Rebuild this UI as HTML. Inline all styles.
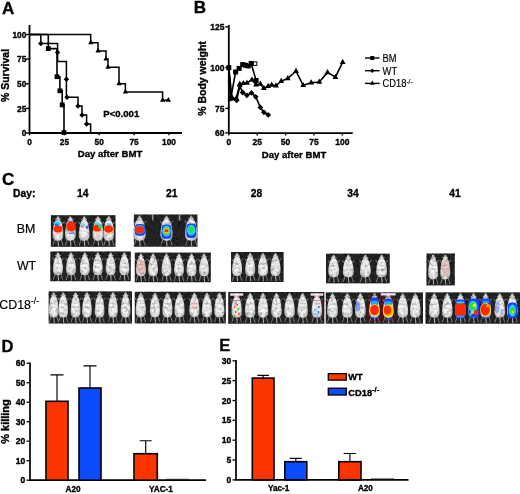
<!DOCTYPE html>
<html><head><meta charset="utf-8"><title>Figure</title>
<style>
html,body{margin:0;padding:0;background:#fff;}
body{width:520px;height:494px;overflow:hidden;font-family:"Liberation Sans",sans-serif;}
svg{display:block;}
text{font-family:"Liberation Sans",sans-serif;fill:#000;}
.r{stroke:#000;stroke-width:0.18px;}
.b{font-weight:bold;stroke:#000;stroke-width:0.35px;stroke-linejoin:round;}
</style></head><body>
<svg width="520" height="494" viewBox="0 0 520 494">
<defs>
<filter id="bl" x="0" y="0" width="520" height="494" filterUnits="userSpaceOnUse"><feGaussianBlur stdDeviation="0.38"/></filter>
<filter id="bm" x="0" y="200" width="520" height="140" filterUnits="userSpaceOnUse"><feGaussianBlur stdDeviation="0.6" result="b"/><feTurbulence type="fractalNoise" baseFrequency="0.32" numOctaves="2" seed="7" result="n"/><feColorMatrix in="n" type="matrix" values="0 0 0 0 0  0 0 0 0 0  0 0 0 0 0  1.4 0 0 0 -0.6" result="na"/><feComposite in="na" in2="b" operator="in" result="nb"/><feMerge><feMergeNode in="b"/><feMergeNode in="nb"/></feMerge></filter>
<filter id="br" x="0" y="200" width="520" height="140" filterUnits="userSpaceOnUse"><feGaussianBlur stdDeviation="0.35"/></filter>
<filter id="bc" x="0" y="200" width="520" height="140" filterUnits="userSpaceOnUse"><feGaussianBlur stdDeviation="0.65"/></filter>
<radialGradient id="mg" cx="50%" cy="55%" r="60%"><stop offset="0" stop-color="#fdfdfd"/><stop offset="0.55" stop-color="#f0f0f0"/><stop offset="1" stop-color="#a8a8a8"/></radialGradient>
</defs>
<rect width="520" height="494" fill="#fff"/>
<g filter="url(#bl)">

<g id="A">
<text x="2" y="14.4" class="b" font-size="17">A</text>
<path d="M29.5 25V133.0H182" stroke="#000" stroke-width="1.8" fill="none"/>
<path d="M26.0 133.0H29.5" stroke="#000" stroke-width="1.4"/>
<text x="26.3" y="136.1" class="b" font-size="8.3" text-anchor="end">0</text>
<path d="M26.0 108.4H29.5" stroke="#000" stroke-width="1.4"/>
<text x="26.3" y="111.5" class="b" font-size="8.3" text-anchor="end">25</text>
<path d="M26.0 83.8H29.5" stroke="#000" stroke-width="1.4"/>
<text x="26.3" y="86.8" class="b" font-size="8.3" text-anchor="end">50</text>
<path d="M26.0 59.1H29.5" stroke="#000" stroke-width="1.4"/>
<text x="26.3" y="62.2" class="b" font-size="8.3" text-anchor="end">75</text>
<path d="M26.0 34.5H29.5" stroke="#000" stroke-width="1.4"/>
<text x="26.3" y="37.6" class="b" font-size="8.3" text-anchor="end">100</text>
<path d="M29.5 133.0V135.3" stroke="#000" stroke-width="1.4"/>
<text x="29.5" y="144.8" class="b" font-size="8.3" text-anchor="middle">0</text>
<path d="M64.4 133.0V135.3" stroke="#000" stroke-width="1.4"/>
<text x="64.4" y="144.8" class="b" font-size="8.3" text-anchor="middle">25</text>
<path d="M99.2 133.0V135.3" stroke="#000" stroke-width="1.4"/>
<text x="99.2" y="144.8" class="b" font-size="8.3" text-anchor="middle">50</text>
<path d="M134.1 133.0V135.3" stroke="#000" stroke-width="1.4"/>
<text x="134.1" y="144.8" class="b" font-size="8.3" text-anchor="middle">75</text>
<path d="M169.0 133.0V135.3" stroke="#000" stroke-width="1.4"/>
<text x="169.0" y="144.8" class="b" font-size="8.3" text-anchor="middle">100</text>
<text x="110" y="157.2" class="b" font-size="9.6" text-anchor="middle">Day after BMT</text>
<text transform="translate(9.4 75.5) rotate(-90)" class="b" font-size="10.5" text-anchor="middle">% Survival</text>
<text x="121.3" y="117.4" class="b" font-size="9.6" text-anchor="middle">P&lt;0.001</text>
<path d="M29.5 34.5L90.7 34.5L90.7 42.7L98.0 42.7L98.0 50.9L106.0 50.9L106.0 59.1L108.0 59.1L108.0 67.3L119.0 67.3L119.0 83.8L125.4 83.8L125.4 92.0L162.6 92.0L162.6 100.2L169.0 100.2" stroke="#000" stroke-width="1.5" fill="none" stroke-linejoin="miter"/>
<path d="M90.7 39.5L93.3 44.2L88.1 44.2Z" fill="#000"/>
<path d="M98.0 47.7L100.6 52.4L95.4 52.4Z" fill="#000"/>
<path d="M106.0 55.9L108.6 60.6L103.4 60.6Z" fill="#000"/>
<path d="M108.0 64.1L110.6 68.8L105.4 68.8Z" fill="#000"/>
<path d="M119.0 80.6L121.6 85.2L116.4 85.2Z" fill="#000"/>
<path d="M125.4 88.8L128.0 93.4L122.8 93.4Z" fill="#000"/>
<path d="M162.6 97.0L165.2 101.7L160.0 101.7Z" fill="#000"/>
<path d="M168.4 97.0L171.0 101.7L165.8 101.7Z" fill="#000"/>
<path d="M29.5 34.5L40.8 34.5L40.8 43.5L57.6 43.5L57.6 61.4L66.4 61.4L66.4 97.2L78.0 97.2L78.0 106.1L82.0 106.1L82.0 115.1L86.6 115.1L86.6 124.0L90.6 124.0L90.6 133.0" stroke="#000" stroke-width="1.5" fill="none" stroke-linejoin="miter"/>
<path d="M40.8 40.8L43.5 43.5L40.8 46.2L38.1 43.5Z" fill="#000"/>
<path d="M57.6 49.7L60.3 52.4L57.6 55.1L54.9 52.4Z" fill="#000"/>
<path d="M66.4 76.6L69.1 79.3L66.4 82.0L63.7 79.3Z" fill="#000"/>
<path d="M67.0 94.5L69.7 97.2L67.0 99.9L64.3 97.2Z" fill="#000"/>
<path d="M78.0 103.4L80.7 106.1L78.0 108.8L75.3 106.1Z" fill="#000"/>
<path d="M82.0 112.4L84.7 115.1L82.0 117.8L79.3 115.1Z" fill="#000"/>
<path d="M86.6 121.3L89.3 124.0L86.6 126.7L83.9 124.0Z" fill="#000"/>
<path d="M29.5 34.5L48.3 34.5L48.3 48.6L57.0 48.6L57.0 76.7L59.9 76.7L59.9 90.8L62.2 90.8L62.2 104.9L64.0 104.9L64.0 133.0" stroke="#000" stroke-width="1.6" fill="none" stroke-linejoin="miter"/>
<rect x="45.9" y="46.2" width="4.8" height="4.8" fill="#000"/>
<rect x="54.6" y="74.3" width="4.8" height="4.8" fill="#000"/>
<rect x="57.5" y="88.4" width="4.8" height="4.8" fill="#000"/>
<rect x="59.8" y="102.5" width="4.8" height="4.8" fill="#000"/>
<rect x="61.6" y="130.1" width="4.8" height="4.8" fill="#000"/>
</g>
<g id="B">
<text x="193.7" y="12.7" class="b" font-size="17">B</text>
<path d="M228.8 25V133.2H352.7" stroke="#000" stroke-width="1.8" fill="none"/>
<path d="M225.3 132.9H228.8" stroke="#000" stroke-width="1.4"/>
<text x="224.4" y="136.0" class="b" font-size="8.5" text-anchor="end">60</text>
<path d="M225.3 108.4H228.8" stroke="#000" stroke-width="1.4"/>
<text x="224.4" y="111.5" class="b" font-size="8.5" text-anchor="end">75</text>
<path d="M225.3 67.6H228.8" stroke="#000" stroke-width="1.4"/>
<text x="224.4" y="70.7" class="b" font-size="8.5" text-anchor="end">100</text>
<path d="M225.3 26.8H228.8" stroke="#000" stroke-width="1.4"/>
<text x="224.4" y="29.9" class="b" font-size="8.5" text-anchor="end">125</text>
<path d="M228.8 133.2V135.5" stroke="#000" stroke-width="1.4"/>
<text x="228.8" y="144.79999999999998" class="b" font-size="8.5" text-anchor="middle">0</text>
<path d="M257.2 133.2V135.5" stroke="#000" stroke-width="1.4"/>
<text x="257.2" y="144.79999999999998" class="b" font-size="8.5" text-anchor="middle">25</text>
<path d="M285.6 133.2V135.5" stroke="#000" stroke-width="1.4"/>
<text x="285.6" y="144.79999999999998" class="b" font-size="8.5" text-anchor="middle">50</text>
<path d="M314.0 133.2V135.5" stroke="#000" stroke-width="1.4"/>
<text x="314.0" y="144.79999999999998" class="b" font-size="8.5" text-anchor="middle">75</text>
<path d="M342.4 133.2V135.5" stroke="#000" stroke-width="1.4"/>
<text x="342.4" y="144.79999999999998" class="b" font-size="8.5" text-anchor="middle">100</text>
<text x="294" y="157.8" class="b" font-size="9.6" text-anchor="middle">Day after BMT</text>
<text transform="translate(206.3 78.5) rotate(-90)" class="b" font-size="10.5" text-anchor="middle">% Body weight</text>
<path d="M228.8 67.7L230.8 98.2L235.6 72.0L239.1 68.4L242.7 64.6L245.5 65.3L248.3 65.9L251.2 63.5L256.1 80.5" stroke="#000" stroke-width="1.6" fill="none" stroke-linejoin="miter"/>
<path d="M228.8 67.7L232.0 98.2L236.3 98.2L239.8 84.0L243.4 83.3L247.0 82.9L251.9 79.8L256.1 84.7L260.4 84.0L263.9 88.3L268.2 86.1L271.7 84.9L276.0 85.7L281.2 81.2L287.8 78.4L296.0 71.2L303.2 85.3L311.2 82.7L319.3 82.0L327.5 72.4L335.4 77.2L342.7 62.2" stroke="#000" stroke-width="1.6" fill="none" stroke-linejoin="miter"/>
<path d="M228.8 67.7L230.6 98.6L236.7 100.3L239.8 86.1L242.7 92.5L246.9 95.3L251.5 92.9L255.7 96.8L260.4 107.4L263.9 112.3L268.2 114.9" stroke="#000" stroke-width="1.6" fill="none" stroke-linejoin="miter"/>
<rect x="226.3" y="65.2" width="5.0" height="5.0" fill="#000"/>
<rect x="228.3" y="95.7" width="5.0" height="5.0" fill="#000"/>
<rect x="233.1" y="69.5" width="5.0" height="5.0" fill="#000"/>
<rect x="236.6" y="65.9" width="5.0" height="5.0" fill="#000"/>
<rect x="240.2" y="62.1" width="5.0" height="5.0" fill="#000"/>
<rect x="243.0" y="62.8" width="5.0" height="5.0" fill="#000"/>
<rect x="245.8" y="63.4" width="5.0" height="5.0" fill="#000"/>
<rect x="248.7" y="61.0" width="5.0" height="5.0" fill="#000"/>
<rect x="253.6" y="78.0" width="5.0" height="5.0" fill="#000"/>
<rect x="253.3" y="61.9" width="3.5" height="3.5" fill="#fff" stroke="#000" stroke-width="1"/>
<path d="M232.0 94.8L234.9 100.0L229.1 100.0Z" fill="#000"/>
<path d="M236.3 94.8L239.2 100.0L233.4 100.0Z" fill="#000"/>
<path d="M239.8 80.6L242.7 85.8L236.9 85.8Z" fill="#000"/>
<path d="M243.4 79.9L246.3 85.1L240.5 85.1Z" fill="#000"/>
<path d="M247.0 79.5L249.9 84.7L244.1 84.7Z" fill="#000"/>
<path d="M251.9 76.4L254.8 81.6L249.0 81.6Z" fill="#000"/>
<path d="M256.1 81.3L259.0 86.5L253.2 86.5Z" fill="#000"/>
<path d="M260.4 80.6L263.3 85.8L257.5 85.8Z" fill="#000"/>
<path d="M263.9 84.9L266.8 90.1L261.0 90.1Z" fill="#000"/>
<path d="M268.2 82.7L271.1 87.9L265.3 87.9Z" fill="#000"/>
<path d="M271.7 81.5L274.6 86.7L268.8 86.7Z" fill="#000"/>
<path d="M276.0 82.3L278.9 87.5L273.1 87.5Z" fill="#000"/>
<path d="M281.2 77.8L284.1 83.0L278.3 83.0Z" fill="#000"/>
<path d="M287.8 75.0L290.7 80.2L284.9 80.2Z" fill="#000"/>
<path d="M296.0 67.8L298.9 73.0L293.1 73.0Z" fill="#000"/>
<path d="M303.2 81.9L306.1 87.1L300.3 87.1Z" fill="#000"/>
<path d="M311.2 79.3L314.1 84.5L308.3 84.5Z" fill="#000"/>
<path d="M319.3 78.6L322.2 83.8L316.4 83.8Z" fill="#000"/>
<path d="M327.5 69.0L330.4 74.2L324.6 74.2Z" fill="#000"/>
<path d="M335.4 73.8L338.3 79.0L332.5 79.0Z" fill="#000"/>
<path d="M342.7 58.8L345.6 64.0L339.8 64.0Z" fill="#000"/>
<path d="M230.6 95.7L233.5 98.6L230.6 101.5L227.7 98.6Z" fill="#000"/>
<path d="M236.7 97.4L239.6 100.3L236.7 103.2L233.8 100.3Z" fill="#000"/>
<path d="M239.8 83.2L242.7 86.1L239.8 89.0L236.9 86.1Z" fill="#000"/>
<path d="M242.7 89.6L245.6 92.5L242.7 95.4L239.8 92.5Z" fill="#000"/>
<path d="M246.9 92.4L249.8 95.3L246.9 98.2L244.0 95.3Z" fill="#000"/>
<path d="M251.5 90.0L254.4 92.9L251.5 95.8L248.6 92.9Z" fill="#000"/>
<path d="M255.7 93.9L258.6 96.8L255.7 99.7L252.8 96.8Z" fill="#000"/>
<path d="M260.4 104.5L263.3 107.4L260.4 110.3L257.5 107.4Z" fill="#000"/>
<path d="M263.9 109.4L266.8 112.3L263.9 115.2L261.0 112.3Z" fill="#000"/>
<path d="M268.2 112.0L271.1 114.9L268.2 117.8L265.3 114.9Z" fill="#000"/>
<path d="M365 58H379.6" stroke="#000" stroke-width="1.4"/>
<rect x="370.3" y="56.0" width="4.0" height="4.0" fill="#000"/>
<text transform="translate(382.6 61.8) scale(0.88 1)" font-size="10.6" class="r">BM</text>
<path d="M365 70.7H379.6" stroke="#000" stroke-width="1.4"/>
<path d="M372.3 68.5L374.5 70.7L372.3 72.9L370.1 70.7Z" fill="#000"/>
<text transform="translate(382.6 74.5) scale(0.88 1)" font-size="10.6" class="r">WT</text>
<path d="M365 83.4H379.6" stroke="#000" stroke-width="1.4"/>
<path d="M372.3 80.6L374.6 84.7L370.0 84.7Z" fill="#000"/>
<text transform="translate(382.6 87.2) scale(0.88 1)" font-size="10.6" class="r">CD18<tspan font-size="7.4" dy="-3.6">-/-</tspan></text>
</g>
<g id="C">
<text x="2.1" y="184.7" class="b" font-size="17">C</text>
<text x="13.1" y="196.5" class="b" font-size="10.3">Day:</text>
<text x="82.8" y="196.5" class="b" font-size="10.3" text-anchor="middle">14</text>
<text x="171.8" y="196.5" class="b" font-size="10.3" text-anchor="middle">21</text>
<text x="256.5" y="196.5" class="b" font-size="10.3" text-anchor="middle">28</text>
<text x="353" y="196.5" class="b" font-size="10.3" text-anchor="middle">34</text>
<text x="455" y="196.5" class="b" font-size="10.3" text-anchor="middle">41</text>
<text x="16.8" y="233.3" font-size="12.4" class="r">BM</text>
<text x="16.9" y="270" font-size="12.4" class="r">WT</text>
<text x="-0.7" y="308.6" font-size="12.4" class="r">CD18<tspan font-size="8.5" dy="-4.4">-/-</tspan></text>
<g filter="url(#bm)">
<rect x="50.9" y="215.2" width="64.6" height="31.6" fill="#262626"/><path d="M54.9 239.5L53.1 245.2M61.1 239.5L62.9 245.2M53.8 224.2l-1.5 -2.2M62.2 224.2l1.5 -2.2" stroke="#9a9a9a" stroke-width="0.8" fill="none" stroke-linecap="round"/><path d="M58.0 240.0L58.5 245.8" stroke="#c8c8c8" stroke-width="0.9" fill="none" stroke-linecap="round"/><path d="M58.0 215.9C59.2 216.5 59.8 218.5 60.0 220.4C61.2 221.4 61.7 222.4 61.9 224.0C62.8 227.1 63.8 233.0 63.2 237.0C62.6 239.8 60.4 240.8 58.0 240.8C55.6 240.8 53.4 239.8 52.8 237.2C52.2 233.0 53.2 227.1 54.1 224.0C54.3 222.4 54.8 221.4 56.0 220.4C56.2 218.5 56.8 216.5 58.0 215.9Z" fill="url(#mg)"/><circle cx="55.9" cy="219.4" r="0.8" fill="#b0b0b0"/><circle cx="60.1" cy="219.4" r="0.8" fill="#b0b0b0"/><path d="M54.9 226.6q3.1 1.8 6.2 0M55.1 231.6q2.9 -1.6 5.7 0.4M58.0 224.0v3" stroke="#b4b4b4" stroke-width="0.8" fill="none" opacity="0.7"/><path d="M67.3 239.5L65.5 245.2M73.5 239.5L75.3 245.2M66.2 224.2l-1.5 -2.2M74.6 224.2l1.5 -2.2" stroke="#9a9a9a" stroke-width="0.8" fill="none" stroke-linecap="round"/><path d="M70.4 240.0L70.9 245.8" stroke="#c8c8c8" stroke-width="0.9" fill="none" stroke-linecap="round"/><path d="M70.4 215.9C71.6 216.5 72.2 218.5 72.4 220.4C73.6 221.4 74.1 222.4 74.3 224.0C75.2 227.1 76.2 233.0 75.6 237.0C75.0 239.8 72.8 240.8 70.4 240.8C68.0 240.8 65.8 239.8 65.2 237.2C64.6 233.0 65.6 227.1 66.5 224.0C66.7 222.4 67.2 221.4 68.4 220.4C68.6 218.5 69.2 216.5 70.4 215.9Z" fill="url(#mg)"/><circle cx="68.3" cy="219.4" r="0.8" fill="#b0b0b0"/><circle cx="72.5" cy="219.4" r="0.8" fill="#b0b0b0"/><path d="M67.3 226.6q3.1 1.8 6.2 0M67.5 231.6q2.9 -1.6 5.7 0.4M70.4 224.0v3" stroke="#b4b4b4" stroke-width="0.8" fill="none" opacity="0.7"/><path d="M81.1 239.5L79.3 245.2M87.3 239.5L89.1 245.2M80.0 224.2l-1.5 -2.2M88.4 224.2l1.5 -2.2" stroke="#9a9a9a" stroke-width="0.8" fill="none" stroke-linecap="round"/><path d="M84.2 240.0L84.7 245.8" stroke="#c8c8c8" stroke-width="0.9" fill="none" stroke-linecap="round"/><path d="M84.2 215.9C85.4 216.5 86.0 218.5 86.2 220.4C87.4 221.4 87.9 222.4 88.1 224.0C89.0 227.1 90.0 233.0 89.4 237.0C88.8 239.8 86.6 240.8 84.2 240.8C81.8 240.8 79.6 239.8 79.0 237.2C78.4 233.0 79.4 227.1 80.3 224.0C80.5 222.4 81.0 221.4 82.2 220.4C82.4 218.5 83.0 216.5 84.2 215.9Z" fill="url(#mg)"/><circle cx="82.1" cy="219.4" r="0.8" fill="#b0b0b0"/><circle cx="86.3" cy="219.4" r="0.8" fill="#b0b0b0"/><path d="M81.1 226.6q3.1 1.8 6.2 0M81.3 231.6q2.9 -1.6 5.7 0.4M84.2 224.0v3" stroke="#b4b4b4" stroke-width="0.8" fill="none" opacity="0.7"/><path d="M94.9 239.5L93.1 245.2M101.1 239.5L102.9 245.2M93.8 224.2l-1.5 -2.2M102.2 224.2l1.5 -2.2" stroke="#9a9a9a" stroke-width="0.8" fill="none" stroke-linecap="round"/><path d="M98.0 240.0L98.5 245.8" stroke="#c8c8c8" stroke-width="0.9" fill="none" stroke-linecap="round"/><path d="M98.0 215.9C99.2 216.5 99.8 218.5 100.0 220.4C101.2 221.4 101.7 222.4 101.9 224.0C102.8 227.1 103.8 233.0 103.2 237.0C102.6 239.8 100.4 240.8 98.0 240.8C95.6 240.8 93.4 239.8 92.8 237.2C92.2 233.0 93.2 227.1 94.1 224.0C94.3 222.4 94.8 221.4 96.0 220.4C96.2 218.5 96.8 216.5 98.0 215.9Z" fill="url(#mg)"/><circle cx="95.9" cy="219.4" r="0.8" fill="#b0b0b0"/><circle cx="100.1" cy="219.4" r="0.8" fill="#b0b0b0"/><path d="M94.9 226.6q3.1 1.8 6.2 0M95.1 231.6q2.9 -1.6 5.7 0.4M98.0 224.0v3" stroke="#b4b4b4" stroke-width="0.8" fill="none" opacity="0.7"/><path d="M105.7 239.5L103.9 245.2M111.9 239.5L113.7 245.2M104.6 224.2l-1.5 -2.2M113.0 224.2l1.5 -2.2" stroke="#9a9a9a" stroke-width="0.8" fill="none" stroke-linecap="round"/><path d="M108.8 240.0L109.3 245.8" stroke="#c8c8c8" stroke-width="0.9" fill="none" stroke-linecap="round"/><path d="M108.8 215.9C110.0 216.5 110.6 218.5 110.8 220.4C112.0 221.4 112.5 222.4 112.7 224.0C113.6 227.1 114.6 233.0 114.0 237.0C113.4 239.8 111.2 240.8 108.8 240.8C106.4 240.8 104.2 239.8 103.6 237.2C103.0 233.0 104.0 227.1 104.9 224.0C105.1 222.4 105.6 221.4 106.8 220.4C107.0 218.5 107.6 216.5 108.8 215.9Z" fill="url(#mg)"/><circle cx="106.7" cy="219.4" r="0.8" fill="#b0b0b0"/><circle cx="110.9" cy="219.4" r="0.8" fill="#b0b0b0"/><path d="M105.7 226.6q3.1 1.8 6.2 0M105.9 231.6q2.9 -1.6 5.7 0.4M108.8 224.0v3" stroke="#b4b4b4" stroke-width="0.8" fill="none" opacity="0.7"/>
<rect x="133.9" y="214.5" width="63.5" height="32.2" fill="#262626"/><path d="M136.1 239.4L134.0 245.1M143.1 239.4L145.2 245.1M134.9 223.5l-1.5 -2.2M144.3 223.5l1.5 -2.2" stroke="#9a9a9a" stroke-width="0.8" fill="none" stroke-linecap="round"/><path d="M139.6 239.9L140.1 245.7" stroke="#c8c8c8" stroke-width="0.9" fill="none" stroke-linecap="round"/><path d="M139.6 215.2C140.8 215.8 141.4 217.8 141.6 219.7C143.2 220.7 143.8 221.7 144.0 223.3C145.0 226.4 146.1 232.9 145.5 236.9C144.9 239.7 142.0 240.7 139.6 240.7C137.2 240.7 134.3 239.7 133.7 237.1C133.1 232.9 134.2 226.4 135.2 223.3C135.4 221.7 136.0 220.7 137.6 219.7C137.8 217.8 138.4 215.8 139.6 215.2Z" fill="url(#mg)"/><circle cx="137.5" cy="218.7" r="0.8" fill="#b0b0b0"/><circle cx="141.7" cy="218.7" r="0.8" fill="#b0b0b0"/><path d="M136.1 225.9q3.5 1.8 7.1 0M136.4 230.9q3.2 -1.6 6.5 0.4M139.6 223.3v3" stroke="#b4b4b4" stroke-width="0.8" fill="none" opacity="0.7"/><path d="M163.0 239.4L160.9 245.1M170.0 239.4L172.1 245.1M161.8 223.5l-1.5 -2.2M171.2 223.5l1.5 -2.2" stroke="#9a9a9a" stroke-width="0.8" fill="none" stroke-linecap="round"/><path d="M166.5 239.9L167.0 245.7" stroke="#c8c8c8" stroke-width="0.9" fill="none" stroke-linecap="round"/><path d="M166.5 215.2C167.7 215.8 168.3 217.8 168.5 219.7C170.1 220.7 170.7 221.7 170.9 223.3C171.9 226.4 173.0 232.9 172.4 236.9C171.8 239.7 168.9 240.7 166.5 240.7C164.1 240.7 161.2 239.7 160.6 237.1C160.0 232.9 161.1 226.4 162.1 223.3C162.3 221.7 162.9 220.7 164.5 219.7C164.7 217.8 165.3 215.8 166.5 215.2Z" fill="url(#mg)"/><circle cx="164.4" cy="218.7" r="0.8" fill="#b0b0b0"/><circle cx="168.6" cy="218.7" r="0.8" fill="#b0b0b0"/><path d="M163.0 225.9q3.5 1.8 7.1 0M163.3 230.9q3.2 -1.6 6.5 0.4M166.5 223.3v3" stroke="#b4b4b4" stroke-width="0.8" fill="none" opacity="0.7"/><path d="M187.7 239.4L185.6 245.1M194.7 239.4L196.8 245.1M186.5 223.5l-1.5 -2.2M195.9 223.5l1.5 -2.2" stroke="#9a9a9a" stroke-width="0.8" fill="none" stroke-linecap="round"/><path d="M191.2 239.9L191.7 245.7" stroke="#c8c8c8" stroke-width="0.9" fill="none" stroke-linecap="round"/><path d="M191.2 215.2C192.4 215.8 193.0 217.8 193.2 219.7C194.8 220.7 195.4 221.7 195.6 223.3C196.6 226.4 197.7 232.9 197.1 236.9C196.5 239.7 193.6 240.7 191.2 240.7C188.8 240.7 185.9 239.7 185.3 237.1C184.7 232.9 185.8 226.4 186.8 223.3C187.0 221.7 187.6 220.7 189.2 219.7C189.4 217.8 190.0 215.8 191.2 215.2Z" fill="url(#mg)"/><circle cx="189.1" cy="218.7" r="0.8" fill="#b0b0b0"/><circle cx="193.3" cy="218.7" r="0.8" fill="#b0b0b0"/><path d="M187.7 225.9q3.5 1.8 7.1 0M188.0 230.9q3.2 -1.6 6.5 0.4M191.2 223.3v3" stroke="#b4b4b4" stroke-width="0.8" fill="none" opacity="0.7"/>
<rect x="151.89999999999998" y="214.5" width="1.6" height="6" fill="#9a9a9a"/>
<rect x="178.79999999999998" y="214.5" width="1.6" height="6" fill="#9a9a9a"/>
<rect x="50.3" y="251.5" width="80.5" height="29.7" fill="#262626"/><path d="M55.1 273.9L53.4 279.6M60.9 273.9L62.6 279.6M54.1 260.5l-1.5 -2.2M61.9 260.5l1.5 -2.2" stroke="#9a9a9a" stroke-width="0.8" fill="none" stroke-linecap="round"/><path d="M58.0 274.4L58.5 280.2" stroke="#c8c8c8" stroke-width="0.9" fill="none" stroke-linecap="round"/><path d="M58.0 252.2C59.2 252.8 59.8 254.8 60.0 256.7C61.0 257.7 61.5 258.7 61.7 260.3C62.5 263.4 63.5 267.4 62.9 271.4C62.2 274.2 60.4 275.2 58.0 275.2C55.6 275.2 53.8 274.2 53.1 271.6C52.5 267.4 53.5 263.4 54.3 260.3C54.5 258.7 55.0 257.7 56.0 256.7C56.2 254.8 56.8 252.8 58.0 252.2Z" fill="url(#mg)"/><circle cx="55.9" cy="255.7" r="0.8" fill="#b0b0b0"/><circle cx="60.1" cy="255.7" r="0.8" fill="#b0b0b0"/><path d="M55.1 262.9q2.9 1.8 5.8 0M55.3 267.9q2.7 -1.6 5.3 0.4M58.0 260.3v3" stroke="#b4b4b4" stroke-width="0.8" fill="none" opacity="0.7"/><path d="M68.1 273.9L66.4 279.6M73.9 273.9L75.6 279.6M67.1 260.5l-1.5 -2.2M74.9 260.5l1.5 -2.2" stroke="#9a9a9a" stroke-width="0.8" fill="none" stroke-linecap="round"/><path d="M71.0 274.4L71.5 280.2" stroke="#c8c8c8" stroke-width="0.9" fill="none" stroke-linecap="round"/><path d="M71.0 252.2C72.2 252.8 72.8 254.8 73.0 256.7C74.0 257.7 74.5 258.7 74.7 260.3C75.5 263.4 76.4 267.4 75.8 271.4C75.2 274.2 73.4 275.2 71.0 275.2C68.6 275.2 66.8 274.2 66.2 271.6C65.6 267.4 66.5 263.4 67.3 260.3C67.5 258.7 68.0 257.7 69.0 256.7C69.2 254.8 69.8 252.8 71.0 252.2Z" fill="url(#mg)"/><circle cx="68.9" cy="255.7" r="0.8" fill="#b0b0b0"/><circle cx="73.1" cy="255.7" r="0.8" fill="#b0b0b0"/><path d="M68.1 262.9q2.9 1.8 5.8 0M68.3 267.9q2.7 -1.6 5.3 0.4M71.0 260.3v3" stroke="#b4b4b4" stroke-width="0.8" fill="none" opacity="0.7"/><path d="M81.9 273.9L80.2 279.6M87.7 273.9L89.4 279.6M80.9 260.5l-1.5 -2.2M88.7 260.5l1.5 -2.2" stroke="#9a9a9a" stroke-width="0.8" fill="none" stroke-linecap="round"/><path d="M84.8 274.4L85.3 280.2" stroke="#c8c8c8" stroke-width="0.9" fill="none" stroke-linecap="round"/><path d="M84.8 252.2C86.0 252.8 86.6 254.8 86.8 256.7C87.8 257.7 88.3 258.7 88.5 260.3C89.3 263.4 90.2 267.4 89.6 271.4C89.0 274.2 87.2 275.2 84.8 275.2C82.4 275.2 80.5 274.2 80.0 271.6C79.4 267.4 80.3 263.4 81.1 260.3C81.3 258.7 81.8 257.7 82.8 256.7C83.0 254.8 83.6 252.8 84.8 252.2Z" fill="url(#mg)"/><circle cx="82.7" cy="255.7" r="0.8" fill="#b0b0b0"/><circle cx="86.9" cy="255.7" r="0.8" fill="#b0b0b0"/><path d="M81.9 262.9q2.9 1.8 5.8 0M82.1 267.9q2.7 -1.6 5.3 0.4M84.8 260.3v3" stroke="#b4b4b4" stroke-width="0.8" fill="none" opacity="0.7"/><path d="M94.9 273.9L93.2 279.6M100.7 273.9L102.4 279.6M93.9 260.5l-1.5 -2.2M101.7 260.5l1.5 -2.2" stroke="#9a9a9a" stroke-width="0.8" fill="none" stroke-linecap="round"/><path d="M97.8 274.4L98.3 280.2" stroke="#c8c8c8" stroke-width="0.9" fill="none" stroke-linecap="round"/><path d="M97.8 252.2C99.0 252.8 99.6 254.8 99.8 256.7C100.8 257.7 101.3 258.7 101.5 260.3C102.3 263.4 103.2 267.4 102.6 271.4C102.0 274.2 100.2 275.2 97.8 275.2C95.4 275.2 93.5 274.2 93.0 271.6C92.4 267.4 93.3 263.4 94.1 260.3C94.3 258.7 94.8 257.7 95.8 256.7C96.0 254.8 96.6 252.8 97.8 252.2Z" fill="url(#mg)"/><circle cx="95.7" cy="255.7" r="0.8" fill="#b0b0b0"/><circle cx="99.9" cy="255.7" r="0.8" fill="#b0b0b0"/><path d="M94.9 262.9q2.9 1.8 5.8 0M95.1 267.9q2.7 -1.6 5.3 0.4M97.8 260.3v3" stroke="#b4b4b4" stroke-width="0.8" fill="none" opacity="0.7"/><path d="M107.8 273.9L106.1 279.6M113.6 273.9L115.3 279.6M106.8 260.5l-1.5 -2.2M114.6 260.5l1.5 -2.2" stroke="#9a9a9a" stroke-width="0.8" fill="none" stroke-linecap="round"/><path d="M110.7 274.4L111.2 280.2" stroke="#c8c8c8" stroke-width="0.9" fill="none" stroke-linecap="round"/><path d="M110.7 252.2C111.9 252.8 112.5 254.8 112.7 256.7C113.7 257.7 114.2 258.7 114.4 260.3C115.2 263.4 116.1 267.4 115.5 271.4C115.0 274.2 113.1 275.2 110.7 275.2C108.3 275.2 106.5 274.2 105.9 271.6C105.3 267.4 106.2 263.4 107.0 260.3C107.2 258.7 107.7 257.7 108.7 256.7C108.9 254.8 109.5 252.8 110.7 252.2Z" fill="url(#mg)"/><circle cx="108.6" cy="255.7" r="0.8" fill="#b0b0b0"/><circle cx="112.8" cy="255.7" r="0.8" fill="#b0b0b0"/><path d="M107.8 262.9q2.9 1.8 5.8 0M108.0 267.9q2.7 -1.6 5.3 0.4M110.7 260.3v3" stroke="#b4b4b4" stroke-width="0.8" fill="none" opacity="0.7"/><path d="M121.4 273.9L119.7 279.6M127.2 273.9L128.9 279.6M120.4 260.5l-1.5 -2.2M128.2 260.5l1.5 -2.2" stroke="#9a9a9a" stroke-width="0.8" fill="none" stroke-linecap="round"/><path d="M124.3 274.4L124.8 280.2" stroke="#c8c8c8" stroke-width="0.9" fill="none" stroke-linecap="round"/><path d="M124.3 252.2C125.5 252.8 126.1 254.8 126.3 256.7C127.3 257.7 127.8 258.7 128.0 260.3C128.8 263.4 129.8 267.4 129.2 271.4C128.6 274.2 126.7 275.2 124.3 275.2C121.9 275.2 120.0 274.2 119.5 271.6C118.9 267.4 119.8 263.4 120.6 260.3C120.8 258.7 121.3 257.7 122.3 256.7C122.5 254.8 123.1 252.8 124.3 252.2Z" fill="url(#mg)"/><circle cx="122.2" cy="255.7" r="0.8" fill="#b0b0b0"/><circle cx="126.4" cy="255.7" r="0.8" fill="#b0b0b0"/><path d="M121.4 262.9q2.9 1.8 5.8 0M121.6 267.9q2.7 -1.6 5.3 0.4M124.3 260.3v3" stroke="#b4b4b4" stroke-width="0.8" fill="none" opacity="0.7"/>
<rect x="134.8" y="252.6" width="76.0" height="29.6" fill="#262626"/><path d="M138.0 274.9L136.3 280.6M143.8 274.9L145.5 280.6M137.0 261.6l-1.5 -2.2M144.8 261.6l1.5 -2.2" stroke="#9a9a9a" stroke-width="0.8" fill="none" stroke-linecap="round"/><path d="M140.9 275.4L141.4 281.2" stroke="#c8c8c8" stroke-width="0.9" fill="none" stroke-linecap="round"/><path d="M140.9 253.3C142.1 253.9 142.7 255.9 142.9 257.8C143.9 258.8 144.4 259.8 144.6 261.4C145.4 264.5 146.3 268.4 145.8 272.4C145.2 275.2 143.3 276.2 140.9 276.2C138.5 276.2 136.7 275.2 136.1 272.6C135.5 268.4 136.4 264.5 137.2 261.4C137.4 259.8 137.9 258.8 138.9 257.8C139.1 255.9 139.7 253.9 140.9 253.3Z" fill="url(#mg)"/><circle cx="138.8" cy="256.8" r="0.8" fill="#b0b0b0"/><circle cx="143.0" cy="256.8" r="0.8" fill="#b0b0b0"/><path d="M138.0 264.0q2.9 1.8 5.8 0M138.2 269.0q2.7 -1.6 5.3 0.4M140.9 261.4v3" stroke="#b4b4b4" stroke-width="0.8" fill="none" opacity="0.7"/><path d="M150.2 274.9L148.5 280.6M156.0 274.9L157.7 280.6M149.2 261.6l-1.5 -2.2M157.0 261.6l1.5 -2.2" stroke="#9a9a9a" stroke-width="0.8" fill="none" stroke-linecap="round"/><path d="M153.1 275.4L153.6 281.2" stroke="#c8c8c8" stroke-width="0.9" fill="none" stroke-linecap="round"/><path d="M153.1 253.3C154.3 253.9 154.9 255.9 155.1 257.8C156.1 258.8 156.6 259.8 156.8 261.4C157.6 264.5 158.5 268.4 157.9 272.4C157.3 275.2 155.5 276.2 153.1 276.2C150.7 276.2 148.8 275.2 148.2 272.6C147.7 268.4 148.6 264.5 149.4 261.4C149.6 259.8 150.1 258.8 151.1 257.8C151.3 255.9 151.9 253.9 153.1 253.3Z" fill="url(#mg)"/><circle cx="151.0" cy="256.8" r="0.8" fill="#b0b0b0"/><circle cx="155.2" cy="256.8" r="0.8" fill="#b0b0b0"/><path d="M150.2 264.0q2.9 1.8 5.8 0M150.4 269.0q2.7 -1.6 5.3 0.4M153.1 261.4v3" stroke="#b4b4b4" stroke-width="0.8" fill="none" opacity="0.7"/><path d="M163.6 274.9L161.9 280.6M169.4 274.9L171.1 280.6M162.6 261.6l-1.5 -2.2M170.4 261.6l1.5 -2.2" stroke="#9a9a9a" stroke-width="0.8" fill="none" stroke-linecap="round"/><path d="M166.5 275.4L167.0 281.2" stroke="#c8c8c8" stroke-width="0.9" fill="none" stroke-linecap="round"/><path d="M166.5 253.3C167.7 253.9 168.3 255.9 168.5 257.8C169.5 258.8 170.0 259.8 170.2 261.4C171.0 264.5 171.9 268.4 171.3 272.4C170.8 275.2 168.9 276.2 166.5 276.2C164.1 276.2 162.2 275.2 161.7 272.6C161.1 268.4 162.0 264.5 162.8 261.4C163.0 259.8 163.5 258.8 164.5 257.8C164.7 255.9 165.3 253.9 166.5 253.3Z" fill="url(#mg)"/><circle cx="164.4" cy="256.8" r="0.8" fill="#b0b0b0"/><circle cx="168.6" cy="256.8" r="0.8" fill="#b0b0b0"/><path d="M163.6 264.0q2.9 1.8 5.8 0M163.8 269.0q2.7 -1.6 5.3 0.4M166.5 261.4v3" stroke="#b4b4b4" stroke-width="0.8" fill="none" opacity="0.7"/><path d="M176.1 274.9L174.4 280.6M181.9 274.9L183.6 280.6M175.1 261.6l-1.5 -2.2M182.9 261.6l1.5 -2.2" stroke="#9a9a9a" stroke-width="0.8" fill="none" stroke-linecap="round"/><path d="M179.0 275.4L179.5 281.2" stroke="#c8c8c8" stroke-width="0.9" fill="none" stroke-linecap="round"/><path d="M179.0 253.3C180.2 253.9 180.8 255.9 181.0 257.8C182.0 258.8 182.5 259.8 182.7 261.4C183.5 264.5 184.4 268.4 183.8 272.4C183.2 275.2 181.4 276.2 179.0 276.2C176.6 276.2 174.8 275.2 174.2 272.6C173.6 268.4 174.5 264.5 175.3 261.4C175.5 259.8 176.0 258.8 177.0 257.8C177.2 255.9 177.8 253.9 179.0 253.3Z" fill="url(#mg)"/><circle cx="176.9" cy="256.8" r="0.8" fill="#b0b0b0"/><circle cx="181.1" cy="256.8" r="0.8" fill="#b0b0b0"/><path d="M176.1 264.0q2.9 1.8 5.8 0M176.3 269.0q2.7 -1.6 5.3 0.4M179.0 261.4v3" stroke="#b4b4b4" stroke-width="0.8" fill="none" opacity="0.7"/><path d="M188.6 274.9L186.9 280.6M194.4 274.9L196.1 280.6M187.6 261.6l-1.5 -2.2M195.4 261.6l1.5 -2.2" stroke="#9a9a9a" stroke-width="0.8" fill="none" stroke-linecap="round"/><path d="M191.5 275.4L192.0 281.2" stroke="#c8c8c8" stroke-width="0.9" fill="none" stroke-linecap="round"/><path d="M191.5 253.3C192.7 253.9 193.3 255.9 193.5 257.8C194.5 258.8 195.0 259.8 195.2 261.4C196.0 264.5 196.9 268.4 196.3 272.4C195.8 275.2 193.9 276.2 191.5 276.2C189.1 276.2 187.2 275.2 186.7 272.6C186.1 268.4 187.0 264.5 187.8 261.4C188.0 259.8 188.5 258.8 189.5 257.8C189.7 255.9 190.3 253.9 191.5 253.3Z" fill="url(#mg)"/><circle cx="189.4" cy="256.8" r="0.8" fill="#b0b0b0"/><circle cx="193.6" cy="256.8" r="0.8" fill="#b0b0b0"/><path d="M188.6 264.0q2.9 1.8 5.8 0M188.8 269.0q2.7 -1.6 5.3 0.4M191.5 261.4v3" stroke="#b4b4b4" stroke-width="0.8" fill="none" opacity="0.7"/><path d="M201.1 274.9L199.4 280.6M206.9 274.9L208.6 280.6M200.1 261.6l-1.5 -2.2M207.9 261.6l1.5 -2.2" stroke="#9a9a9a" stroke-width="0.8" fill="none" stroke-linecap="round"/><path d="M204.0 275.4L204.5 281.2" stroke="#c8c8c8" stroke-width="0.9" fill="none" stroke-linecap="round"/><path d="M204.0 253.3C205.2 253.9 205.8 255.9 206.0 257.8C207.0 258.8 207.5 259.8 207.7 261.4C208.5 264.5 209.4 268.4 208.8 272.4C208.2 275.2 206.4 276.2 204.0 276.2C201.6 276.2 199.8 275.2 199.2 272.6C198.6 268.4 199.5 264.5 200.3 261.4C200.5 259.8 201.0 258.8 202.0 257.8C202.2 255.9 202.8 253.9 204.0 253.3Z" fill="url(#mg)"/><circle cx="201.9" cy="256.8" r="0.8" fill="#b0b0b0"/><circle cx="206.1" cy="256.8" r="0.8" fill="#b0b0b0"/><path d="M201.1 264.0q2.9 1.8 5.8 0M201.3 269.0q2.7 -1.6 5.3 0.4M204.0 261.4v3" stroke="#b4b4b4" stroke-width="0.8" fill="none" opacity="0.7"/>
<rect x="231" y="252" width="52.6" height="30.0" fill="#262626"/><path d="M234.2 274.7L232.5 280.4M240.0 274.7L241.7 280.4M233.2 261.0l-1.5 -2.2M241.0 261.0l1.5 -2.2" stroke="#9a9a9a" stroke-width="0.8" fill="none" stroke-linecap="round"/><path d="M237.1 275.2L237.6 281.0" stroke="#c8c8c8" stroke-width="0.9" fill="none" stroke-linecap="round"/><path d="M237.1 252.7C238.3 253.3 238.9 255.3 239.1 257.2C240.1 258.2 240.6 259.2 240.8 260.8C241.6 263.9 242.5 268.2 241.9 272.2C241.3 275.0 239.5 276.0 237.1 276.0C234.7 276.0 232.8 275.0 232.2 272.4C231.7 268.2 232.6 263.9 233.4 260.8C233.6 259.2 234.1 258.2 235.1 257.2C235.3 255.3 235.9 253.3 237.1 252.7Z" fill="url(#mg)"/><circle cx="235.0" cy="256.2" r="0.8" fill="#b0b0b0"/><circle cx="239.2" cy="256.2" r="0.8" fill="#b0b0b0"/><path d="M234.2 263.4q2.9 1.8 5.8 0M234.4 268.4q2.7 -1.6 5.3 0.4M237.1 260.8v3" stroke="#b4b4b4" stroke-width="0.8" fill="none" opacity="0.7"/><path d="M247.3 274.7L245.6 280.4M253.1 274.7L254.8 280.4M246.3 261.0l-1.5 -2.2M254.1 261.0l1.5 -2.2" stroke="#9a9a9a" stroke-width="0.8" fill="none" stroke-linecap="round"/><path d="M250.2 275.2L250.7 281.0" stroke="#c8c8c8" stroke-width="0.9" fill="none" stroke-linecap="round"/><path d="M250.2 252.7C251.4 253.3 252.0 255.3 252.2 257.2C253.2 258.2 253.7 259.2 253.9 260.8C254.7 263.9 255.6 268.2 255.0 272.2C254.4 275.0 252.6 276.0 250.2 276.0C247.8 276.0 245.9 275.0 245.3 272.4C244.8 268.2 245.7 263.9 246.5 260.8C246.7 259.2 247.2 258.2 248.2 257.2C248.4 255.3 249.0 253.3 250.2 252.7Z" fill="url(#mg)"/><circle cx="248.1" cy="256.2" r="0.8" fill="#b0b0b0"/><circle cx="252.3" cy="256.2" r="0.8" fill="#b0b0b0"/><path d="M247.3 263.4q2.9 1.8 5.8 0M247.5 268.4q2.7 -1.6 5.3 0.4M250.2 260.8v3" stroke="#b4b4b4" stroke-width="0.8" fill="none" opacity="0.7"/><path d="M260.1 274.7L258.4 280.4M265.9 274.7L267.6 280.4M259.1 261.0l-1.5 -2.2M266.9 261.0l1.5 -2.2" stroke="#9a9a9a" stroke-width="0.8" fill="none" stroke-linecap="round"/><path d="M263.0 275.2L263.5 281.0" stroke="#c8c8c8" stroke-width="0.9" fill="none" stroke-linecap="round"/><path d="M263.0 252.7C264.2 253.3 264.8 255.3 265.0 257.2C266.0 258.2 266.5 259.2 266.7 260.8C267.5 263.9 268.5 268.2 267.9 272.2C267.2 275.0 265.4 276.0 263.0 276.0C260.6 276.0 258.8 275.0 258.1 272.4C257.5 268.2 258.5 263.9 259.3 260.8C259.5 259.2 260.0 258.2 261.0 257.2C261.2 255.3 261.8 253.3 263.0 252.7Z" fill="url(#mg)"/><circle cx="260.9" cy="256.2" r="0.8" fill="#b0b0b0"/><circle cx="265.1" cy="256.2" r="0.8" fill="#b0b0b0"/><path d="M260.1 263.4q2.9 1.8 5.8 0M260.3 268.4q2.7 -1.6 5.3 0.4M263.0 260.8v3" stroke="#b4b4b4" stroke-width="0.8" fill="none" opacity="0.7"/><path d="M272.6 274.7L270.9 280.4M278.4 274.7L280.1 280.4M271.6 261.0l-1.5 -2.2M279.4 261.0l1.5 -2.2" stroke="#9a9a9a" stroke-width="0.8" fill="none" stroke-linecap="round"/><path d="M275.5 275.2L276.0 281.0" stroke="#c8c8c8" stroke-width="0.9" fill="none" stroke-linecap="round"/><path d="M275.5 252.7C276.7 253.3 277.3 255.3 277.5 257.2C278.5 258.2 279.0 259.2 279.2 260.8C280.0 263.9 281.0 268.2 280.4 272.2C279.8 275.0 277.9 276.0 275.5 276.0C273.1 276.0 271.2 275.0 270.6 272.4C270.0 268.2 271.0 263.9 271.8 260.8C272.0 259.2 272.5 258.2 273.5 257.2C273.7 255.3 274.3 253.3 275.5 252.7Z" fill="url(#mg)"/><circle cx="273.4" cy="256.2" r="0.8" fill="#b0b0b0"/><circle cx="277.6" cy="256.2" r="0.8" fill="#b0b0b0"/><path d="M272.6 263.4q2.9 1.8 5.8 0M272.8 268.4q2.7 -1.6 5.3 0.4M275.5 260.8v3" stroke="#b4b4b4" stroke-width="0.8" fill="none" opacity="0.7"/>
<rect x="326" y="253.7" width="63.7" height="29.6" fill="#262626"/><path d="M330.5 276.0L328.7 281.7M336.9 276.0L338.7 281.7M329.5 262.7l-1.5 -2.2M337.9 262.7l1.5 -2.2" stroke="#9a9a9a" stroke-width="0.8" fill="none" stroke-linecap="round"/><path d="M333.7 276.5L334.2 282.3" stroke="#c8c8c8" stroke-width="0.9" fill="none" stroke-linecap="round"/><path d="M333.7 254.4C334.9 255.0 335.5 257.0 335.7 258.9C336.9 259.9 337.5 260.9 337.7 262.5C338.6 265.6 339.6 269.5 339.0 273.5C338.4 276.3 336.1 277.3 333.7 277.3C331.3 277.3 329.0 276.3 328.4 273.7C327.8 269.5 328.8 265.6 329.7 262.5C329.9 260.9 330.5 259.9 331.7 258.9C331.9 257.0 332.5 255.0 333.7 254.4Z" fill="url(#mg)"/><circle cx="331.6" cy="257.9" r="0.8" fill="#b0b0b0"/><circle cx="335.8" cy="257.9" r="0.8" fill="#b0b0b0"/><path d="M330.5 265.1q3.2 1.8 6.4 0M330.8 270.1q2.9 -1.6 5.8 0.4M333.7 262.5v3" stroke="#b4b4b4" stroke-width="0.8" fill="none" opacity="0.7"/><path d="M345.1 276.0L343.3 281.7M351.5 276.0L353.3 281.7M344.1 262.7l-1.5 -2.2M352.5 262.7l1.5 -2.2" stroke="#9a9a9a" stroke-width="0.8" fill="none" stroke-linecap="round"/><path d="M348.3 276.5L348.8 282.3" stroke="#c8c8c8" stroke-width="0.9" fill="none" stroke-linecap="round"/><path d="M348.3 254.4C349.5 255.0 350.1 257.0 350.3 258.9C351.5 259.9 352.1 260.9 352.3 262.5C353.2 265.6 354.2 269.5 353.6 273.5C353.0 276.3 350.7 277.3 348.3 277.3C345.9 277.3 343.6 276.3 343.0 273.7C342.4 269.5 343.4 265.6 344.3 262.5C344.5 260.9 345.1 259.9 346.3 258.9C346.5 257.0 347.1 255.0 348.3 254.4Z" fill="url(#mg)"/><circle cx="346.2" cy="257.9" r="0.8" fill="#b0b0b0"/><circle cx="350.4" cy="257.9" r="0.8" fill="#b0b0b0"/><path d="M345.1 265.1q3.2 1.8 6.4 0M345.4 270.1q2.9 -1.6 5.8 0.4M348.3 262.5v3" stroke="#b4b4b4" stroke-width="0.8" fill="none" opacity="0.7"/><path d="M362.2 276.0L360.4 281.7M368.6 276.0L370.4 281.7M361.2 262.7l-1.5 -2.2M369.6 262.7l1.5 -2.2" stroke="#9a9a9a" stroke-width="0.8" fill="none" stroke-linecap="round"/><path d="M365.4 276.5L365.9 282.3" stroke="#c8c8c8" stroke-width="0.9" fill="none" stroke-linecap="round"/><path d="M365.4 254.4C366.6 255.0 367.2 257.0 367.4 258.9C368.6 259.9 369.2 260.9 369.4 262.5C370.3 265.6 371.3 269.5 370.7 273.5C370.1 276.3 367.8 277.3 365.4 277.3C363.0 277.3 360.7 276.3 360.1 273.7C359.5 269.5 360.5 265.6 361.4 262.5C361.6 260.9 362.2 259.9 363.4 258.9C363.6 257.0 364.2 255.0 365.4 254.4Z" fill="url(#mg)"/><circle cx="363.3" cy="257.9" r="0.8" fill="#b0b0b0"/><circle cx="367.5" cy="257.9" r="0.8" fill="#b0b0b0"/><path d="M362.2 265.1q3.2 1.8 6.4 0M362.5 270.1q2.9 -1.6 5.8 0.4M365.4 262.5v3" stroke="#b4b4b4" stroke-width="0.8" fill="none" opacity="0.7"/><path d="M378.4 276.0L376.6 281.7M384.8 276.0L386.6 281.7M377.4 262.7l-1.5 -2.2M385.8 262.7l1.5 -2.2" stroke="#9a9a9a" stroke-width="0.8" fill="none" stroke-linecap="round"/><path d="M381.6 276.5L382.1 282.3" stroke="#c8c8c8" stroke-width="0.9" fill="none" stroke-linecap="round"/><path d="M381.6 254.4C382.8 255.0 383.4 257.0 383.6 258.9C384.8 259.9 385.4 260.9 385.6 262.5C386.5 265.6 387.5 269.5 386.9 273.5C386.3 276.3 384.0 277.3 381.6 277.3C379.2 277.3 376.9 276.3 376.3 273.7C375.7 269.5 376.7 265.6 377.6 262.5C377.8 260.9 378.4 259.9 379.6 258.9C379.8 257.0 380.4 255.0 381.6 254.4Z" fill="url(#mg)"/><circle cx="379.5" cy="257.9" r="0.8" fill="#b0b0b0"/><circle cx="383.7" cy="257.9" r="0.8" fill="#b0b0b0"/><path d="M378.4 265.1q3.2 1.8 6.4 0M378.7 270.1q2.9 -1.6 5.8 0.4M381.6 262.5v3" stroke="#b4b4b4" stroke-width="0.8" fill="none" opacity="0.7"/>
<rect x="426.5" y="253.5" width="28.3" height="31.9" fill="#262626"/><path d="M430.3 278.1L428.6 283.8M436.1 278.1L437.8 283.8M429.4 262.5l-1.5 -2.2M437.0 262.5l1.5 -2.2" stroke="#9a9a9a" stroke-width="0.8" fill="none" stroke-linecap="round"/><path d="M433.2 278.6L433.7 284.4" stroke="#c8c8c8" stroke-width="0.9" fill="none" stroke-linecap="round"/><path d="M433.2 254.2C434.4 254.8 435.0 256.8 435.2 258.7C436.1 259.7 436.7 260.7 436.9 262.3C437.6 265.4 438.6 271.6 438.0 275.6C437.4 278.4 435.6 279.4 433.2 279.4C430.8 279.4 429.0 278.4 428.4 275.8C427.8 271.6 428.8 265.4 429.5 262.3C429.7 260.7 430.3 259.7 431.2 258.7C431.4 256.8 432.0 254.8 433.2 254.2Z" fill="url(#mg)"/><circle cx="431.1" cy="257.7" r="0.8" fill="#b0b0b0"/><circle cx="435.3" cy="257.7" r="0.8" fill="#b0b0b0"/><path d="M430.3 264.9q2.9 1.8 5.8 0M430.6 269.9q2.6 -1.6 5.3 0.4M433.2 262.3v3" stroke="#b4b4b4" stroke-width="0.8" fill="none" opacity="0.7"/><path d="M442.4 278.1L440.7 283.8M448.2 278.1L449.9 283.8M441.5 262.5l-1.5 -2.2M449.1 262.5l1.5 -2.2" stroke="#9a9a9a" stroke-width="0.8" fill="none" stroke-linecap="round"/><path d="M445.3 278.6L445.8 284.4" stroke="#c8c8c8" stroke-width="0.9" fill="none" stroke-linecap="round"/><path d="M445.3 254.2C446.5 254.8 447.1 256.8 447.3 258.7C448.2 259.7 448.8 260.7 449.0 262.3C449.7 265.4 450.7 271.6 450.1 275.6C449.5 278.4 447.7 279.4 445.3 279.4C442.9 279.4 441.1 278.4 440.5 275.8C439.9 271.6 440.9 265.4 441.6 262.3C441.8 260.7 442.4 259.7 443.3 258.7C443.5 256.8 444.1 254.8 445.3 254.2Z" fill="url(#mg)"/><circle cx="443.2" cy="257.7" r="0.8" fill="#b0b0b0"/><circle cx="447.4" cy="257.7" r="0.8" fill="#b0b0b0"/><path d="M442.4 264.9q2.9 1.8 5.8 0M442.7 269.9q2.6 -1.6 5.3 0.4M445.3 262.3v3" stroke="#b4b4b4" stroke-width="0.8" fill="none" opacity="0.7"/>
<rect x="48.7" y="291.4" width="83.3" height="32.1" fill="#262626"/><path d="M51.0 316.2L49.3 321.9M56.6 316.2L58.3 321.9M50.0 300.4l-1.5 -2.2M57.6 300.4l1.5 -2.2" stroke="#9a9a9a" stroke-width="0.8" fill="none" stroke-linecap="round"/><path d="M53.8 316.7L54.3 322.5" stroke="#c8c8c8" stroke-width="0.9" fill="none" stroke-linecap="round"/><path d="M53.8 292.1C55.0 292.7 55.6 294.7 55.8 296.6C56.7 297.6 57.2 298.6 57.4 300.2C58.1 303.3 59.1 309.7 58.5 313.7C57.9 316.5 56.2 317.5 53.8 317.5C51.4 317.5 49.7 316.5 49.1 313.9C48.5 309.7 49.5 303.3 50.2 300.2C50.4 298.6 50.9 297.6 51.8 296.6C52.0 294.7 52.6 292.7 53.8 292.1Z" fill="url(#mg)"/><circle cx="51.7" cy="295.6" r="0.8" fill="#b0b0b0"/><circle cx="55.9" cy="295.6" r="0.8" fill="#b0b0b0"/><path d="M51.0 302.8q2.8 1.8 5.6 0M51.2 307.8q2.6 -1.6 5.2 0.4M53.8 300.2v3" stroke="#b4b4b4" stroke-width="0.8" fill="none" opacity="0.7"/><path d="M60.4 316.2L58.7 321.9M66.0 316.2L67.7 321.9M59.4 300.4l-1.5 -2.2M67.0 300.4l1.5 -2.2" stroke="#9a9a9a" stroke-width="0.8" fill="none" stroke-linecap="round"/><path d="M63.2 316.7L63.7 322.5" stroke="#c8c8c8" stroke-width="0.9" fill="none" stroke-linecap="round"/><path d="M63.2 292.1C64.4 292.7 65.0 294.7 65.2 296.6C66.1 297.6 66.6 298.6 66.8 300.2C67.5 303.3 68.5 309.7 67.9 313.7C67.3 316.5 65.6 317.5 63.2 317.5C60.8 317.5 59.1 316.5 58.5 313.9C57.9 309.7 58.9 303.3 59.6 300.2C59.8 298.6 60.3 297.6 61.2 296.6C61.4 294.7 62.0 292.7 63.2 292.1Z" fill="url(#mg)"/><circle cx="61.1" cy="295.6" r="0.8" fill="#b0b0b0"/><circle cx="65.3" cy="295.6" r="0.8" fill="#b0b0b0"/><path d="M60.4 302.8q2.8 1.8 5.6 0M60.6 307.8q2.6 -1.6 5.2 0.4M63.2 300.2v3" stroke="#b4b4b4" stroke-width="0.8" fill="none" opacity="0.7"/><path d="M72.8 316.2L71.1 321.9M78.4 316.2L80.1 321.9M71.8 300.4l-1.5 -2.2M79.4 300.4l1.5 -2.2" stroke="#9a9a9a" stroke-width="0.8" fill="none" stroke-linecap="round"/><path d="M75.6 316.7L76.1 322.5" stroke="#c8c8c8" stroke-width="0.9" fill="none" stroke-linecap="round"/><path d="M75.6 292.1C76.8 292.7 77.4 294.7 77.6 296.6C78.5 297.6 79.0 298.6 79.2 300.2C79.9 303.3 80.9 309.7 80.3 313.7C79.7 316.5 78.0 317.5 75.6 317.5C73.2 317.5 71.5 316.5 70.9 313.9C70.3 309.7 71.3 303.3 72.0 300.2C72.2 298.6 72.7 297.6 73.6 296.6C73.8 294.7 74.4 292.7 75.6 292.1Z" fill="url(#mg)"/><circle cx="73.5" cy="295.6" r="0.8" fill="#b0b0b0"/><circle cx="77.7" cy="295.6" r="0.8" fill="#b0b0b0"/><path d="M72.8 302.8q2.8 1.8 5.6 0M73.0 307.8q2.6 -1.6 5.2 0.4M75.6 300.2v3" stroke="#b4b4b4" stroke-width="0.8" fill="none" opacity="0.7"/><path d="M84.2 316.2L82.5 321.9M89.8 316.2L91.5 321.9M83.2 300.4l-1.5 -2.2M90.8 300.4l1.5 -2.2" stroke="#9a9a9a" stroke-width="0.8" fill="none" stroke-linecap="round"/><path d="M87.0 316.7L87.5 322.5" stroke="#c8c8c8" stroke-width="0.9" fill="none" stroke-linecap="round"/><path d="M87.0 292.1C88.2 292.7 88.8 294.7 89.0 296.6C89.9 297.6 90.4 298.6 90.6 300.2C91.3 303.3 92.3 309.7 91.7 313.7C91.1 316.5 89.4 317.5 87.0 317.5C84.6 317.5 82.9 316.5 82.3 313.9C81.7 309.7 82.7 303.3 83.4 300.2C83.6 298.6 84.1 297.6 85.0 296.6C85.2 294.7 85.8 292.7 87.0 292.1Z" fill="url(#mg)"/><circle cx="84.9" cy="295.6" r="0.8" fill="#b0b0b0"/><circle cx="89.1" cy="295.6" r="0.8" fill="#b0b0b0"/><path d="M84.2 302.8q2.8 1.8 5.6 0M84.4 307.8q2.6 -1.6 5.2 0.4M87.0 300.2v3" stroke="#b4b4b4" stroke-width="0.8" fill="none" opacity="0.7"/><path d="M96.8 316.2L95.1 321.9M102.4 316.2L104.1 321.9M95.8 300.4l-1.5 -2.2M103.4 300.4l1.5 -2.2" stroke="#9a9a9a" stroke-width="0.8" fill="none" stroke-linecap="round"/><path d="M99.6 316.7L100.1 322.5" stroke="#c8c8c8" stroke-width="0.9" fill="none" stroke-linecap="round"/><path d="M99.6 292.1C100.8 292.7 101.4 294.7 101.6 296.6C102.5 297.6 103.0 298.6 103.2 300.2C103.9 303.3 104.9 309.7 104.3 313.7C103.7 316.5 102.0 317.5 99.6 317.5C97.2 317.5 95.5 316.5 94.9 313.9C94.3 309.7 95.3 303.3 96.0 300.2C96.2 298.6 96.7 297.6 97.6 296.6C97.8 294.7 98.4 292.7 99.6 292.1Z" fill="url(#mg)"/><circle cx="97.5" cy="295.6" r="0.8" fill="#b0b0b0"/><circle cx="101.7" cy="295.6" r="0.8" fill="#b0b0b0"/><path d="M96.8 302.8q2.8 1.8 5.6 0M97.0 307.8q2.6 -1.6 5.2 0.4M99.6 300.2v3" stroke="#b4b4b4" stroke-width="0.8" fill="none" opacity="0.7"/><path d="M110.2 316.2L108.5 321.9M115.8 316.2L117.5 321.9M109.2 300.4l-1.5 -2.2M116.8 300.4l1.5 -2.2" stroke="#9a9a9a" stroke-width="0.8" fill="none" stroke-linecap="round"/><path d="M113.0 316.7L113.5 322.5" stroke="#c8c8c8" stroke-width="0.9" fill="none" stroke-linecap="round"/><path d="M113.0 292.1C114.2 292.7 114.8 294.7 115.0 296.6C115.9 297.6 116.4 298.6 116.6 300.2C117.3 303.3 118.3 309.7 117.7 313.7C117.1 316.5 115.4 317.5 113.0 317.5C110.6 317.5 108.9 316.5 108.3 313.9C107.7 309.7 108.7 303.3 109.4 300.2C109.6 298.6 110.1 297.6 111.0 296.6C111.2 294.7 111.8 292.7 113.0 292.1Z" fill="url(#mg)"/><circle cx="110.9" cy="295.6" r="0.8" fill="#b0b0b0"/><circle cx="115.1" cy="295.6" r="0.8" fill="#b0b0b0"/><path d="M110.2 302.8q2.8 1.8 5.6 0M110.4 307.8q2.6 -1.6 5.2 0.4M113.0 300.2v3" stroke="#b4b4b4" stroke-width="0.8" fill="none" opacity="0.7"/><path d="M122.8 316.2L121.1 321.9M128.4 316.2L130.1 321.9M121.8 300.4l-1.5 -2.2M129.4 300.4l1.5 -2.2" stroke="#9a9a9a" stroke-width="0.8" fill="none" stroke-linecap="round"/><path d="M125.6 316.7L126.1 322.5" stroke="#c8c8c8" stroke-width="0.9" fill="none" stroke-linecap="round"/><path d="M125.6 292.1C126.8 292.7 127.4 294.7 127.6 296.6C128.5 297.6 129.0 298.6 129.2 300.2C129.9 303.3 130.9 309.7 130.3 313.7C129.7 316.5 128.0 317.5 125.6 317.5C123.2 317.5 121.5 316.5 120.9 313.9C120.3 309.7 121.3 303.3 122.0 300.2C122.2 298.6 122.7 297.6 123.6 296.6C123.8 294.7 124.4 292.7 125.6 292.1Z" fill="url(#mg)"/><circle cx="123.5" cy="295.6" r="0.8" fill="#b0b0b0"/><circle cx="127.7" cy="295.6" r="0.8" fill="#b0b0b0"/><path d="M122.8 302.8q2.8 1.8 5.6 0M123.0 307.8q2.6 -1.6 5.2 0.4M125.6 300.2v3" stroke="#b4b4b4" stroke-width="0.8" fill="none" opacity="0.7"/>
<rect x="134.8" y="291.8" width="91.0" height="31.6" fill="#262626"/><path d="M137.8 316.1L136.1 321.8M143.8 316.1L145.5 321.8M136.8 300.8l-1.5 -2.2M144.8 300.8l1.5 -2.2" stroke="#9a9a9a" stroke-width="0.8" fill="none" stroke-linecap="round"/><path d="M140.8 316.6L141.3 322.4" stroke="#c8c8c8" stroke-width="0.9" fill="none" stroke-linecap="round"/><path d="M140.8 292.5C142.0 293.1 142.6 295.1 142.8 297.0C143.8 298.0 144.4 299.0 144.6 300.6C145.4 303.7 146.3 309.6 145.8 313.6C145.2 316.4 143.2 317.4 140.8 317.4C138.4 317.4 136.5 316.4 135.9 313.8C135.3 309.6 136.2 303.7 137.0 300.6C137.2 299.0 137.8 298.0 138.8 297.0C139.0 295.1 139.6 293.1 140.8 292.5Z" fill="url(#mg)"/><circle cx="138.7" cy="296.0" r="0.8" fill="#b0b0b0"/><circle cx="142.9" cy="296.0" r="0.8" fill="#b0b0b0"/><path d="M137.8 303.2q3.0 1.8 5.9 0M138.1 308.2q2.7 -1.6 5.4 0.4M140.8 300.6v3" stroke="#b4b4b4" stroke-width="0.8" fill="none" opacity="0.7"/><path d="M152.0 316.1L150.3 321.8M158.0 316.1L159.7 321.8M151.0 300.8l-1.5 -2.2M159.0 300.8l1.5 -2.2" stroke="#9a9a9a" stroke-width="0.8" fill="none" stroke-linecap="round"/><path d="M155.0 316.6L155.5 322.4" stroke="#c8c8c8" stroke-width="0.9" fill="none" stroke-linecap="round"/><path d="M155.0 292.5C156.2 293.1 156.8 295.1 157.0 297.0C158.0 298.0 158.6 299.0 158.8 300.6C159.6 303.7 160.5 309.6 159.9 313.6C159.3 316.4 157.4 317.4 155.0 317.4C152.6 317.4 150.7 316.4 150.1 313.8C149.5 309.6 150.4 303.7 151.2 300.6C151.4 299.0 152.0 298.0 153.0 297.0C153.2 295.1 153.8 293.1 155.0 292.5Z" fill="url(#mg)"/><circle cx="152.9" cy="296.0" r="0.8" fill="#b0b0b0"/><circle cx="157.1" cy="296.0" r="0.8" fill="#b0b0b0"/><path d="M152.0 303.2q3.0 1.8 5.9 0M152.3 308.2q2.7 -1.6 5.4 0.4M155.0 300.6v3" stroke="#b4b4b4" stroke-width="0.8" fill="none" opacity="0.7"/><path d="M164.5 316.1L162.8 321.8M170.5 316.1L172.2 321.8M163.5 300.8l-1.5 -2.2M171.5 300.8l1.5 -2.2" stroke="#9a9a9a" stroke-width="0.8" fill="none" stroke-linecap="round"/><path d="M167.5 316.6L168.0 322.4" stroke="#c8c8c8" stroke-width="0.9" fill="none" stroke-linecap="round"/><path d="M167.5 292.5C168.7 293.1 169.3 295.1 169.5 297.0C170.5 298.0 171.1 299.0 171.3 300.6C172.1 303.7 173.0 309.6 172.4 313.6C171.8 316.4 169.9 317.4 167.5 317.4C165.1 317.4 163.2 316.4 162.6 313.8C162.0 309.6 162.9 303.7 163.7 300.6C163.9 299.0 164.5 298.0 165.5 297.0C165.7 295.1 166.3 293.1 167.5 292.5Z" fill="url(#mg)"/><circle cx="165.4" cy="296.0" r="0.8" fill="#b0b0b0"/><circle cx="169.6" cy="296.0" r="0.8" fill="#b0b0b0"/><path d="M164.5 303.2q3.0 1.8 5.9 0M164.8 308.2q2.7 -1.6 5.4 0.4M167.5 300.6v3" stroke="#b4b4b4" stroke-width="0.8" fill="none" opacity="0.7"/><path d="M176.6 316.1L174.9 321.8M182.6 316.1L184.3 321.8M175.6 300.8l-1.5 -2.2M183.6 300.8l1.5 -2.2" stroke="#9a9a9a" stroke-width="0.8" fill="none" stroke-linecap="round"/><path d="M179.6 316.6L180.1 322.4" stroke="#c8c8c8" stroke-width="0.9" fill="none" stroke-linecap="round"/><path d="M179.6 292.5C180.8 293.1 181.4 295.1 181.6 297.0C182.6 298.0 183.2 299.0 183.4 300.6C184.2 303.7 185.1 309.6 184.5 313.6C183.9 316.4 182.0 317.4 179.6 317.4C177.2 317.4 175.2 316.4 174.7 313.8C174.1 309.6 175.0 303.7 175.8 300.6C176.0 299.0 176.6 298.0 177.6 297.0C177.8 295.1 178.4 293.1 179.6 292.5Z" fill="url(#mg)"/><circle cx="177.5" cy="296.0" r="0.8" fill="#b0b0b0"/><circle cx="181.7" cy="296.0" r="0.8" fill="#b0b0b0"/><path d="M176.6 303.2q3.0 1.8 5.9 0M176.9 308.2q2.7 -1.6 5.4 0.4M179.6 300.6v3" stroke="#b4b4b4" stroke-width="0.8" fill="none" opacity="0.7"/><path d="M191.4 316.1L189.7 321.8M197.4 316.1L199.1 321.8M190.4 300.8l-1.5 -2.2M198.4 300.8l1.5 -2.2" stroke="#9a9a9a" stroke-width="0.8" fill="none" stroke-linecap="round"/><path d="M194.4 316.6L194.9 322.4" stroke="#c8c8c8" stroke-width="0.9" fill="none" stroke-linecap="round"/><path d="M194.4 292.5C195.6 293.1 196.2 295.1 196.4 297.0C197.4 298.0 198.0 299.0 198.2 300.6C199.0 303.7 199.9 309.6 199.3 313.6C198.8 316.4 196.8 317.4 194.4 317.4C192.0 317.4 190.1 316.4 189.5 313.8C188.9 309.6 189.8 303.7 190.6 300.6C190.8 299.0 191.4 298.0 192.4 297.0C192.6 295.1 193.2 293.1 194.4 292.5Z" fill="url(#mg)"/><circle cx="192.3" cy="296.0" r="0.8" fill="#b0b0b0"/><circle cx="196.5" cy="296.0" r="0.8" fill="#b0b0b0"/><path d="M191.4 303.2q3.0 1.8 5.9 0M191.7 308.2q2.7 -1.6 5.4 0.4M194.4 300.6v3" stroke="#b4b4b4" stroke-width="0.8" fill="none" opacity="0.7"/><path d="M204.0 316.1L202.3 321.8M210.0 316.1L211.7 321.8M203.0 300.8l-1.5 -2.2M211.0 300.8l1.5 -2.2" stroke="#9a9a9a" stroke-width="0.8" fill="none" stroke-linecap="round"/><path d="M207.0 316.6L207.5 322.4" stroke="#c8c8c8" stroke-width="0.9" fill="none" stroke-linecap="round"/><path d="M207.0 292.5C208.2 293.1 208.8 295.1 209.0 297.0C210.0 298.0 210.6 299.0 210.8 300.6C211.6 303.7 212.5 309.6 211.9 313.6C211.3 316.4 209.4 317.4 207.0 317.4C204.6 317.4 202.7 316.4 202.1 313.8C201.5 309.6 202.4 303.7 203.2 300.6C203.4 299.0 204.0 298.0 205.0 297.0C205.2 295.1 205.8 293.1 207.0 292.5Z" fill="url(#mg)"/><circle cx="204.9" cy="296.0" r="0.8" fill="#b0b0b0"/><circle cx="209.1" cy="296.0" r="0.8" fill="#b0b0b0"/><path d="M204.0 303.2q3.0 1.8 5.9 0M204.3 308.2q2.7 -1.6 5.4 0.4M207.0 300.6v3" stroke="#b4b4b4" stroke-width="0.8" fill="none" opacity="0.7"/><path d="M216.4 316.1L214.7 321.8M222.4 316.1L224.1 321.8M215.4 300.8l-1.5 -2.2M223.4 300.8l1.5 -2.2" stroke="#9a9a9a" stroke-width="0.8" fill="none" stroke-linecap="round"/><path d="M219.4 316.6L219.9 322.4" stroke="#c8c8c8" stroke-width="0.9" fill="none" stroke-linecap="round"/><path d="M219.4 292.5C220.6 293.1 221.2 295.1 221.4 297.0C222.4 298.0 223.0 299.0 223.2 300.6C224.0 303.7 224.9 309.6 224.3 313.6C223.8 316.4 221.8 317.4 219.4 317.4C217.0 317.4 215.1 316.4 214.5 313.8C213.9 309.6 214.8 303.7 215.6 300.6C215.8 299.0 216.4 298.0 217.4 297.0C217.6 295.1 218.2 293.1 219.4 292.5Z" fill="url(#mg)"/><circle cx="217.3" cy="296.0" r="0.8" fill="#b0b0b0"/><circle cx="221.5" cy="296.0" r="0.8" fill="#b0b0b0"/><path d="M216.4 303.2q3.0 1.8 5.9 0M216.7 308.2q2.7 -1.6 5.4 0.4M219.4 300.6v3" stroke="#b4b4b4" stroke-width="0.8" fill="none" opacity="0.7"/>
<rect x="228.2" y="292" width="96.1" height="31.7" fill="#262626"/><path d="M233.7 316.4L231.9 322.1M239.7 316.4L241.5 322.1M232.7 301.0l-1.5 -2.2M240.7 301.0l1.5 -2.2" stroke="#9a9a9a" stroke-width="0.8" fill="none" stroke-linecap="round"/><path d="M236.7 316.9L237.2 322.7" stroke="#c8c8c8" stroke-width="0.9" fill="none" stroke-linecap="round"/><path d="M236.7 292.7C237.9 293.3 238.5 295.3 238.7 297.2C239.8 298.2 240.3 299.2 240.5 300.8C241.3 303.9 242.3 309.9 241.8 313.9C241.2 316.7 239.1 317.7 236.7 317.7C234.3 317.7 232.2 316.7 231.6 314.1C231.0 309.9 232.1 303.9 232.9 300.8C233.1 299.2 233.6 298.2 234.7 297.2C234.9 295.3 235.5 293.3 236.7 292.7Z" fill="url(#mg)"/><circle cx="234.6" cy="296.2" r="0.8" fill="#b0b0b0"/><circle cx="238.8" cy="296.2" r="0.8" fill="#b0b0b0"/><path d="M233.7 303.4q3.0 1.8 6.1 0M233.9 308.4q2.8 -1.6 5.6 0.4M236.7 300.8v3" stroke="#b4b4b4" stroke-width="0.8" fill="none" opacity="0.7"/><path d="M247.2 316.4L245.4 322.1M253.2 316.4L255.0 322.1M246.2 301.0l-1.5 -2.2M254.2 301.0l1.5 -2.2" stroke="#9a9a9a" stroke-width="0.8" fill="none" stroke-linecap="round"/><path d="M250.2 316.9L250.7 322.7" stroke="#c8c8c8" stroke-width="0.9" fill="none" stroke-linecap="round"/><path d="M250.2 292.7C251.4 293.3 252.0 295.3 252.2 297.2C253.3 298.2 253.8 299.2 254.0 300.8C254.8 303.9 255.8 309.9 255.2 313.9C254.7 316.7 252.6 317.7 250.2 317.7C247.8 317.7 245.7 316.7 245.1 314.1C244.5 309.9 245.6 303.9 246.4 300.8C246.6 299.2 247.1 298.2 248.2 297.2C248.4 295.3 249.0 293.3 250.2 292.7Z" fill="url(#mg)"/><circle cx="248.1" cy="296.2" r="0.8" fill="#b0b0b0"/><circle cx="252.3" cy="296.2" r="0.8" fill="#b0b0b0"/><path d="M247.2 303.4q3.0 1.8 6.1 0M247.4 308.4q2.8 -1.6 5.6 0.4M250.2 300.8v3" stroke="#b4b4b4" stroke-width="0.8" fill="none" opacity="0.7"/><path d="M260.0 316.4L258.2 322.1M266.0 316.4L267.8 322.1M259.0 301.0l-1.5 -2.2M267.0 301.0l1.5 -2.2" stroke="#9a9a9a" stroke-width="0.8" fill="none" stroke-linecap="round"/><path d="M263.0 316.9L263.5 322.7" stroke="#c8c8c8" stroke-width="0.9" fill="none" stroke-linecap="round"/><path d="M263.0 292.7C264.2 293.3 264.8 295.3 265.0 297.2C266.1 298.2 266.6 299.2 266.8 300.8C267.6 303.9 268.7 309.9 268.1 313.9C267.4 316.7 265.4 317.7 263.0 317.7C260.6 317.7 258.6 316.7 257.9 314.1C257.3 309.9 258.4 303.9 259.2 300.8C259.4 299.2 259.9 298.2 261.0 297.2C261.2 295.3 261.8 293.3 263.0 292.7Z" fill="url(#mg)"/><circle cx="260.9" cy="296.2" r="0.8" fill="#b0b0b0"/><circle cx="265.1" cy="296.2" r="0.8" fill="#b0b0b0"/><path d="M260.0 303.4q3.0 1.8 6.1 0M260.2 308.4q2.8 -1.6 5.6 0.4M263.0 300.8v3" stroke="#b4b4b4" stroke-width="0.8" fill="none" opacity="0.7"/><path d="M273.5 316.4L271.7 322.1M279.5 316.4L281.3 322.1M272.5 301.0l-1.5 -2.2M280.5 301.0l1.5 -2.2" stroke="#9a9a9a" stroke-width="0.8" fill="none" stroke-linecap="round"/><path d="M276.5 316.9L277.0 322.7" stroke="#c8c8c8" stroke-width="0.9" fill="none" stroke-linecap="round"/><path d="M276.5 292.7C277.7 293.3 278.3 295.3 278.5 297.2C279.6 298.2 280.1 299.2 280.3 300.8C281.1 303.9 282.2 309.9 281.6 313.9C280.9 316.7 278.9 317.7 276.5 317.7C274.1 317.7 272.1 316.7 271.4 314.1C270.8 309.9 271.9 303.9 272.7 300.8C272.9 299.2 273.4 298.2 274.5 297.2C274.7 295.3 275.3 293.3 276.5 292.7Z" fill="url(#mg)"/><circle cx="274.4" cy="296.2" r="0.8" fill="#b0b0b0"/><circle cx="278.6" cy="296.2" r="0.8" fill="#b0b0b0"/><path d="M273.5 303.4q3.0 1.8 6.1 0M273.7 308.4q2.8 -1.6 5.6 0.4M276.5 300.8v3" stroke="#b4b4b4" stroke-width="0.8" fill="none" opacity="0.7"/><path d="M286.6 316.4L284.8 322.1M292.6 316.4L294.4 322.1M285.6 301.0l-1.5 -2.2M293.6 301.0l1.5 -2.2" stroke="#9a9a9a" stroke-width="0.8" fill="none" stroke-linecap="round"/><path d="M289.6 316.9L290.1 322.7" stroke="#c8c8c8" stroke-width="0.9" fill="none" stroke-linecap="round"/><path d="M289.6 292.7C290.8 293.3 291.4 295.3 291.6 297.2C292.7 298.2 293.2 299.2 293.4 300.8C294.2 303.9 295.3 309.9 294.7 313.9C294.1 316.7 292.0 317.7 289.6 317.7C287.2 317.7 285.2 316.7 284.6 314.1C283.9 309.9 285.0 303.9 285.8 300.8C286.0 299.2 286.5 298.2 287.6 297.2C287.8 295.3 288.4 293.3 289.6 292.7Z" fill="url(#mg)"/><circle cx="287.5" cy="296.2" r="0.8" fill="#b0b0b0"/><circle cx="291.7" cy="296.2" r="0.8" fill="#b0b0b0"/><path d="M286.6 303.4q3.0 1.8 6.1 0M286.8 308.4q2.8 -1.6 5.6 0.4M289.6 300.8v3" stroke="#b4b4b4" stroke-width="0.8" fill="none" opacity="0.7"/><path d="M299.7 316.4L297.9 322.1M305.7 316.4L307.5 322.1M298.7 301.0l-1.5 -2.2M306.7 301.0l1.5 -2.2" stroke="#9a9a9a" stroke-width="0.8" fill="none" stroke-linecap="round"/><path d="M302.7 316.9L303.2 322.7" stroke="#c8c8c8" stroke-width="0.9" fill="none" stroke-linecap="round"/><path d="M302.7 292.7C303.9 293.3 304.5 295.3 304.7 297.2C305.8 298.2 306.3 299.2 306.5 300.8C307.3 303.9 308.4 309.9 307.8 313.9C307.1 316.7 305.1 317.7 302.7 317.7C300.3 317.7 298.2 316.7 297.6 314.1C297.0 309.9 298.1 303.9 298.9 300.8C299.1 299.2 299.6 298.2 300.7 297.2C300.9 295.3 301.5 293.3 302.7 292.7Z" fill="url(#mg)"/><circle cx="300.6" cy="296.2" r="0.8" fill="#b0b0b0"/><circle cx="304.8" cy="296.2" r="0.8" fill="#b0b0b0"/><path d="M299.7 303.4q3.0 1.8 6.1 0M299.9 308.4q2.8 -1.6 5.6 0.4M302.7 300.8v3" stroke="#b4b4b4" stroke-width="0.8" fill="none" opacity="0.7"/><path d="M313.9 316.4L312.1 322.1M319.9 316.4L321.7 322.1M312.9 301.0l-1.5 -2.2M320.9 301.0l1.5 -2.2" stroke="#9a9a9a" stroke-width="0.8" fill="none" stroke-linecap="round"/><path d="M316.9 316.9L317.4 322.7" stroke="#c8c8c8" stroke-width="0.9" fill="none" stroke-linecap="round"/><path d="M316.9 292.7C318.1 293.3 318.7 295.3 318.9 297.2C320.0 298.2 320.5 299.2 320.7 300.8C321.5 303.9 322.6 309.9 321.9 313.9C321.3 316.7 319.3 317.7 316.9 317.7C314.5 317.7 312.4 316.7 311.8 314.1C311.2 309.9 312.3 303.9 313.1 300.8C313.3 299.2 313.8 298.2 314.9 297.2C315.1 295.3 315.7 293.3 316.9 292.7Z" fill="url(#mg)"/><circle cx="314.8" cy="296.2" r="0.8" fill="#b0b0b0"/><circle cx="319.0" cy="296.2" r="0.8" fill="#b0b0b0"/><path d="M313.9 303.4q3.0 1.8 6.1 0M314.1 308.4q2.8 -1.6 5.6 0.4M316.9 300.8v3" stroke="#b4b4b4" stroke-width="0.8" fill="none" opacity="0.7"/>
<rect x="325.8" y="292.4" width="97.2" height="31.3" fill="#262626"/><path d="M329.4 316.4L327.6 322.1M335.6 316.4L337.4 322.1M328.3 301.4l-1.5 -2.2M336.7 301.4l1.5 -2.2" stroke="#9a9a9a" stroke-width="0.8" fill="none" stroke-linecap="round"/><path d="M332.5 316.9L333.0 322.7" stroke="#c8c8c8" stroke-width="0.9" fill="none" stroke-linecap="round"/><path d="M332.5 293.1C333.7 293.7 334.3 295.7 334.5 297.6C335.7 298.6 336.2 299.6 336.4 301.2C337.3 304.3 338.3 309.9 337.7 313.9C337.1 316.7 334.9 317.7 332.5 317.7C330.1 317.7 327.9 316.7 327.3 314.1C326.7 309.9 327.7 304.3 328.6 301.2C328.8 299.6 329.3 298.6 330.5 297.6C330.7 295.7 331.3 293.7 332.5 293.1Z" fill="url(#mg)"/><circle cx="330.4" cy="296.6" r="0.8" fill="#b0b0b0"/><circle cx="334.6" cy="296.6" r="0.8" fill="#b0b0b0"/><path d="M329.4 303.8q3.1 1.8 6.2 0M329.6 308.8q2.9 -1.6 5.7 0.4M332.5 301.2v3" stroke="#b4b4b4" stroke-width="0.8" fill="none" opacity="0.7"/><path d="M344.2 316.4L342.4 322.1M350.4 316.4L352.2 322.1M343.1 301.4l-1.5 -2.2M351.5 301.4l1.5 -2.2" stroke="#9a9a9a" stroke-width="0.8" fill="none" stroke-linecap="round"/><path d="M347.3 316.9L347.8 322.7" stroke="#c8c8c8" stroke-width="0.9" fill="none" stroke-linecap="round"/><path d="M347.3 293.1C348.5 293.7 349.1 295.7 349.3 297.6C350.5 298.6 351.0 299.6 351.2 301.2C352.1 304.3 353.1 309.9 352.5 313.9C351.9 316.7 349.7 317.7 347.3 317.7C344.9 317.7 342.7 316.7 342.1 314.1C341.5 309.9 342.5 304.3 343.4 301.2C343.6 299.6 344.1 298.6 345.3 297.6C345.5 295.7 346.1 293.7 347.3 293.1Z" fill="url(#mg)"/><circle cx="345.2" cy="296.6" r="0.8" fill="#b0b0b0"/><circle cx="349.4" cy="296.6" r="0.8" fill="#b0b0b0"/><path d="M344.2 303.8q3.1 1.8 6.2 0M344.4 308.8q2.9 -1.6 5.7 0.4M347.3 301.2v3" stroke="#b4b4b4" stroke-width="0.8" fill="none" opacity="0.7"/><path d="M357.3 316.4L355.5 322.1M363.5 316.4L365.3 322.1M356.2 301.4l-1.5 -2.2M364.6 301.4l1.5 -2.2" stroke="#9a9a9a" stroke-width="0.8" fill="none" stroke-linecap="round"/><path d="M360.4 316.9L360.9 322.7" stroke="#c8c8c8" stroke-width="0.9" fill="none" stroke-linecap="round"/><path d="M360.4 293.1C361.6 293.7 362.2 295.7 362.4 297.6C363.6 298.6 364.1 299.6 364.3 301.2C365.2 304.3 366.2 309.9 365.6 313.9C365.0 316.7 362.8 317.7 360.4 317.7C358.0 317.7 355.8 316.7 355.2 314.1C354.6 309.9 355.6 304.3 356.5 301.2C356.7 299.6 357.2 298.6 358.4 297.6C358.6 295.7 359.2 293.7 360.4 293.1Z" fill="url(#mg)"/><circle cx="358.3" cy="296.6" r="0.8" fill="#b0b0b0"/><circle cx="362.5" cy="296.6" r="0.8" fill="#b0b0b0"/><path d="M357.3 303.8q3.1 1.8 6.2 0M357.5 308.8q2.9 -1.6 5.7 0.4M360.4 301.2v3" stroke="#b4b4b4" stroke-width="0.8" fill="none" opacity="0.7"/><path d="M371.4 316.4L369.6 322.1M377.6 316.4L379.4 322.1M370.3 301.4l-1.5 -2.2M378.7 301.4l1.5 -2.2" stroke="#9a9a9a" stroke-width="0.8" fill="none" stroke-linecap="round"/><path d="M374.5 316.9L375.0 322.7" stroke="#c8c8c8" stroke-width="0.9" fill="none" stroke-linecap="round"/><path d="M374.5 293.1C375.7 293.7 376.3 295.7 376.5 297.6C377.7 298.6 378.2 299.6 378.4 301.2C379.3 304.3 380.3 309.9 379.7 313.9C379.1 316.7 376.9 317.7 374.5 317.7C372.1 317.7 369.9 316.7 369.3 314.1C368.7 309.9 369.7 304.3 370.6 301.2C370.8 299.6 371.3 298.6 372.5 297.6C372.7 295.7 373.3 293.7 374.5 293.1Z" fill="url(#mg)"/><circle cx="372.4" cy="296.6" r="0.8" fill="#b0b0b0"/><circle cx="376.6" cy="296.6" r="0.8" fill="#b0b0b0"/><path d="M371.4 303.8q3.1 1.8 6.2 0M371.6 308.8q2.9 -1.6 5.7 0.4M374.5 301.2v3" stroke="#b4b4b4" stroke-width="0.8" fill="none" opacity="0.7"/><path d="M385.2 316.4L383.4 322.1M391.4 316.4L393.2 322.1M384.1 301.4l-1.5 -2.2M392.5 301.4l1.5 -2.2" stroke="#9a9a9a" stroke-width="0.8" fill="none" stroke-linecap="round"/><path d="M388.3 316.9L388.8 322.7" stroke="#c8c8c8" stroke-width="0.9" fill="none" stroke-linecap="round"/><path d="M388.3 293.1C389.5 293.7 390.1 295.7 390.3 297.6C391.5 298.6 392.0 299.6 392.2 301.2C393.1 304.3 394.1 309.9 393.5 313.9C392.9 316.7 390.7 317.7 388.3 317.7C385.9 317.7 383.7 316.7 383.1 314.1C382.5 309.9 383.5 304.3 384.4 301.2C384.6 299.6 385.1 298.6 386.3 297.6C386.5 295.7 387.1 293.7 388.3 293.1Z" fill="url(#mg)"/><circle cx="386.2" cy="296.6" r="0.8" fill="#b0b0b0"/><circle cx="390.4" cy="296.6" r="0.8" fill="#b0b0b0"/><path d="M385.2 303.8q3.1 1.8 6.2 0M385.4 308.8q2.9 -1.6 5.7 0.4M388.3 301.2v3" stroke="#b4b4b4" stroke-width="0.8" fill="none" opacity="0.7"/><path d="M399.7 316.4L397.9 322.1M405.9 316.4L407.7 322.1M398.6 301.4l-1.5 -2.2M407.0 301.4l1.5 -2.2" stroke="#9a9a9a" stroke-width="0.8" fill="none" stroke-linecap="round"/><path d="M402.8 316.9L403.3 322.7" stroke="#c8c8c8" stroke-width="0.9" fill="none" stroke-linecap="round"/><path d="M402.8 293.1C404.0 293.7 404.6 295.7 404.8 297.6C406.0 298.6 406.5 299.6 406.7 301.2C407.6 304.3 408.6 309.9 408.0 313.9C407.4 316.7 405.2 317.7 402.8 317.7C400.4 317.7 398.2 316.7 397.6 314.1C397.0 309.9 398.0 304.3 398.9 301.2C399.1 299.6 399.6 298.6 400.8 297.6C401.0 295.7 401.6 293.7 402.8 293.1Z" fill="url(#mg)"/><circle cx="400.7" cy="296.6" r="0.8" fill="#b0b0b0"/><circle cx="404.9" cy="296.6" r="0.8" fill="#b0b0b0"/><path d="M399.7 303.8q3.1 1.8 6.2 0M399.9 308.8q2.9 -1.6 5.7 0.4M402.8 301.2v3" stroke="#b4b4b4" stroke-width="0.8" fill="none" opacity="0.7"/><path d="M412.2 316.4L410.4 322.1M418.4 316.4L420.2 322.1M411.1 301.4l-1.5 -2.2M419.5 301.4l1.5 -2.2" stroke="#9a9a9a" stroke-width="0.8" fill="none" stroke-linecap="round"/><path d="M415.3 316.9L415.8 322.7" stroke="#c8c8c8" stroke-width="0.9" fill="none" stroke-linecap="round"/><path d="M415.3 293.1C416.5 293.7 417.1 295.7 417.3 297.6C418.5 298.6 419.0 299.6 419.2 301.2C420.1 304.3 421.1 309.9 420.5 313.9C419.9 316.7 417.7 317.7 415.3 317.7C412.9 317.7 410.7 316.7 410.1 314.1C409.5 309.9 410.5 304.3 411.4 301.2C411.6 299.6 412.1 298.6 413.3 297.6C413.5 295.7 414.1 293.7 415.3 293.1Z" fill="url(#mg)"/><circle cx="413.2" cy="296.6" r="0.8" fill="#b0b0b0"/><circle cx="417.4" cy="296.6" r="0.8" fill="#b0b0b0"/><path d="M412.2 303.8q3.1 1.8 6.2 0M412.4 308.8q2.9 -1.6 5.7 0.4M415.3 301.2v3" stroke="#b4b4b4" stroke-width="0.8" fill="none" opacity="0.7"/>
<rect x="425.5" y="292.4" width="94.5" height="31.3" fill="#262626"/><path d="M431.1 316.4L429.3 322.1M437.3 316.4L439.1 322.1M430.0 301.4l-1.5 -2.2M438.4 301.4l1.5 -2.2" stroke="#9a9a9a" stroke-width="0.8" fill="none" stroke-linecap="round"/><path d="M434.2 316.9L434.7 322.7" stroke="#c8c8c8" stroke-width="0.9" fill="none" stroke-linecap="round"/><path d="M434.2 293.1C435.4 293.7 436.0 295.7 436.2 297.6C437.4 298.6 437.9 299.6 438.1 301.2C439.0 304.3 440.0 309.9 439.4 313.9C438.8 316.7 436.6 317.7 434.2 317.7C431.8 317.7 429.6 316.7 429.0 314.1C428.4 309.9 429.4 304.3 430.3 301.2C430.5 299.6 431.0 298.6 432.2 297.6C432.4 295.7 433.0 293.7 434.2 293.1Z" fill="url(#mg)"/><circle cx="432.1" cy="296.6" r="0.8" fill="#b0b0b0"/><circle cx="436.3" cy="296.6" r="0.8" fill="#b0b0b0"/><path d="M431.1 303.8q3.1 1.8 6.2 0M431.3 308.8q2.9 -1.6 5.7 0.4M434.2 301.2v3" stroke="#b4b4b4" stroke-width="0.8" fill="none" opacity="0.7"/><path d="M444.2 316.4L442.4 322.1M450.4 316.4L452.2 322.1M443.1 301.4l-1.5 -2.2M451.5 301.4l1.5 -2.2" stroke="#9a9a9a" stroke-width="0.8" fill="none" stroke-linecap="round"/><path d="M447.3 316.9L447.8 322.7" stroke="#c8c8c8" stroke-width="0.9" fill="none" stroke-linecap="round"/><path d="M447.3 293.1C448.5 293.7 449.1 295.7 449.3 297.6C450.5 298.6 451.0 299.6 451.2 301.2C452.1 304.3 453.1 309.9 452.5 313.9C451.9 316.7 449.7 317.7 447.3 317.7C444.9 317.7 442.7 316.7 442.1 314.1C441.5 309.9 442.5 304.3 443.4 301.2C443.6 299.6 444.1 298.6 445.3 297.6C445.5 295.7 446.1 293.7 447.3 293.1Z" fill="url(#mg)"/><circle cx="445.2" cy="296.6" r="0.8" fill="#b0b0b0"/><circle cx="449.4" cy="296.6" r="0.8" fill="#b0b0b0"/><path d="M444.2 303.8q3.1 1.8 6.2 0M444.4 308.8q2.9 -1.6 5.7 0.4M447.3 301.2v3" stroke="#b4b4b4" stroke-width="0.8" fill="none" opacity="0.7"/><path d="M457.3 316.4L455.5 322.1M463.5 316.4L465.3 322.1M456.2 301.4l-1.5 -2.2M464.6 301.4l1.5 -2.2" stroke="#9a9a9a" stroke-width="0.8" fill="none" stroke-linecap="round"/><path d="M460.4 316.9L460.9 322.7" stroke="#c8c8c8" stroke-width="0.9" fill="none" stroke-linecap="round"/><path d="M460.4 293.1C461.6 293.7 462.2 295.7 462.4 297.6C463.6 298.6 464.1 299.6 464.3 301.2C465.2 304.3 466.2 309.9 465.6 313.9C465.0 316.7 462.8 317.7 460.4 317.7C458.0 317.7 455.8 316.7 455.2 314.1C454.6 309.9 455.6 304.3 456.5 301.2C456.7 299.6 457.2 298.6 458.4 297.6C458.6 295.7 459.2 293.7 460.4 293.1Z" fill="url(#mg)"/><circle cx="458.3" cy="296.6" r="0.8" fill="#b0b0b0"/><circle cx="462.5" cy="296.6" r="0.8" fill="#b0b0b0"/><path d="M457.3 303.8q3.1 1.8 6.2 0M457.5 308.8q2.9 -1.6 5.7 0.4M460.4 301.2v3" stroke="#b4b4b4" stroke-width="0.8" fill="none" opacity="0.7"/><path d="M470.5 316.4L468.7 322.1M476.7 316.4L478.5 322.1M469.4 301.4l-1.5 -2.2M477.8 301.4l1.5 -2.2" stroke="#9a9a9a" stroke-width="0.8" fill="none" stroke-linecap="round"/><path d="M473.6 316.9L474.1 322.7" stroke="#c8c8c8" stroke-width="0.9" fill="none" stroke-linecap="round"/><path d="M473.6 293.1C474.8 293.7 475.4 295.7 475.6 297.6C476.8 298.6 477.3 299.6 477.5 301.2C478.4 304.3 479.4 309.9 478.8 313.9C478.2 316.7 476.0 317.7 473.6 317.7C471.2 317.7 469.0 316.7 468.4 314.1C467.8 309.9 468.8 304.3 469.7 301.2C469.9 299.6 470.4 298.6 471.6 297.6C471.8 295.7 472.4 293.7 473.6 293.1Z" fill="url(#mg)"/><circle cx="471.5" cy="296.6" r="0.8" fill="#b0b0b0"/><circle cx="475.7" cy="296.6" r="0.8" fill="#b0b0b0"/><path d="M470.5 303.8q3.1 1.8 6.2 0M470.7 308.8q2.9 -1.6 5.7 0.4M473.6 301.2v3" stroke="#b4b4b4" stroke-width="0.8" fill="none" opacity="0.7"/><path d="M482.6 316.4L480.8 322.1M488.8 316.4L490.6 322.1M481.5 301.4l-1.5 -2.2M489.9 301.4l1.5 -2.2" stroke="#9a9a9a" stroke-width="0.8" fill="none" stroke-linecap="round"/><path d="M485.7 316.9L486.2 322.7" stroke="#c8c8c8" stroke-width="0.9" fill="none" stroke-linecap="round"/><path d="M485.7 293.1C486.9 293.7 487.5 295.7 487.7 297.6C488.9 298.6 489.4 299.6 489.6 301.2C490.5 304.3 491.5 309.9 490.9 313.9C490.3 316.7 488.1 317.7 485.7 317.7C483.3 317.7 481.1 316.7 480.5 314.1C479.9 309.9 480.9 304.3 481.8 301.2C482.0 299.6 482.5 298.6 483.7 297.6C483.9 295.7 484.5 293.7 485.7 293.1Z" fill="url(#mg)"/><circle cx="483.6" cy="296.6" r="0.8" fill="#b0b0b0"/><circle cx="487.8" cy="296.6" r="0.8" fill="#b0b0b0"/><path d="M482.6 303.8q3.1 1.8 6.2 0M482.8 308.8q2.9 -1.6 5.7 0.4M485.7 301.2v3" stroke="#b4b4b4" stroke-width="0.8" fill="none" opacity="0.7"/><path d="M496.7 316.4L494.9 322.1M502.9 316.4L504.7 322.1M495.6 301.4l-1.5 -2.2M504.0 301.4l1.5 -2.2" stroke="#9a9a9a" stroke-width="0.8" fill="none" stroke-linecap="round"/><path d="M499.8 316.9L500.3 322.7" stroke="#c8c8c8" stroke-width="0.9" fill="none" stroke-linecap="round"/><path d="M499.8 293.1C501.0 293.7 501.6 295.7 501.8 297.6C503.0 298.6 503.5 299.6 503.7 301.2C504.6 304.3 505.6 309.9 505.0 313.9C504.4 316.7 502.2 317.7 499.8 317.7C497.4 317.7 495.2 316.7 494.6 314.1C494.0 309.9 495.0 304.3 495.9 301.2C496.1 299.6 496.6 298.6 497.8 297.6C498.0 295.7 498.6 293.7 499.8 293.1Z" fill="url(#mg)"/><circle cx="497.7" cy="296.6" r="0.8" fill="#b0b0b0"/><circle cx="501.9" cy="296.6" r="0.8" fill="#b0b0b0"/><path d="M496.7 303.8q3.1 1.8 6.2 0M496.9 308.8q2.9 -1.6 5.7 0.4M499.8 301.2v3" stroke="#b4b4b4" stroke-width="0.8" fill="none" opacity="0.7"/><path d="M509.2 316.4L507.4 322.1M515.4 316.4L517.2 322.1M508.1 301.4l-1.5 -2.2M516.5 301.4l1.5 -2.2" stroke="#9a9a9a" stroke-width="0.8" fill="none" stroke-linecap="round"/><path d="M512.3 316.9L512.8 322.7" stroke="#c8c8c8" stroke-width="0.9" fill="none" stroke-linecap="round"/><path d="M512.3 293.1C513.5 293.7 514.1 295.7 514.3 297.6C515.5 298.6 516.0 299.6 516.2 301.2C517.1 304.3 518.1 309.9 517.5 313.9C516.9 316.7 514.7 317.7 512.3 317.7C509.9 317.7 507.7 316.7 507.1 314.1C506.5 309.9 507.5 304.3 508.4 301.2C508.6 299.6 509.1 298.6 510.3 297.6C510.5 295.7 511.1 293.7 512.3 293.1Z" fill="url(#mg)"/><circle cx="510.2" cy="296.6" r="0.8" fill="#b0b0b0"/><circle cx="514.4" cy="296.6" r="0.8" fill="#b0b0b0"/><path d="M509.2 303.8q3.1 1.8 6.2 0M509.4 308.8q2.9 -1.6 5.7 0.4M512.3 301.2v3" stroke="#b4b4b4" stroke-width="0.8" fill="none" opacity="0.7"/>
</g>
<g filter="url(#bc)">
<ellipse cx="57.2" cy="223.6" rx="3.4" ry="2.0" fill="#19d8ff" opacity="1"/><ellipse cx="56.5" cy="225.0" rx="1.8" ry="1.6" fill="#1440ff" opacity="0.8"/><ellipse cx="58.0" cy="229.0" rx="4.5" ry="3.6" fill="#ff2a00" opacity="1"/><ellipse cx="58.0" cy="233.6" rx="3.6" ry="0.8" fill="#ffb0a0" opacity="0.9"/>
<ellipse cx="70.5" cy="222.2" rx="2.4" ry="1.2" fill="#1440ff" opacity="0.8"/><ellipse cx="71.0" cy="226.6" rx="4.8" ry="5.0" fill="#ff2a00" opacity="1"/><ellipse cx="71.5" cy="233.2" rx="3.2" ry="0.9" fill="#1440ff" opacity="0.6"/>
<ellipse cx="87.3" cy="227.2" rx="1.4" ry="1.8" fill="#1440ff" opacity="0.8"/><ellipse cx="83.6" cy="224.2" rx="1.3" ry="0.9" fill="#19d8ff" opacity="0.6"/>
<ellipse cx="97.0" cy="223.8" rx="3.0" ry="1.3" fill="#19d8ff" opacity="0.8"/><ellipse cx="97.0" cy="228.2" rx="4.2" ry="3.4" fill="#ff2a00" opacity="1"/><ellipse cx="100.2" cy="226.6" rx="2.0" ry="2.4" fill="#2fe02a" opacity="1"/><ellipse cx="101.2" cy="225.4" rx="1.2" ry="1.4" fill="#19d8ff" opacity="1"/><ellipse cx="98.0" cy="233.0" rx="3.2" ry="0.8" fill="#ffb0a0" opacity="0.8"/>
<ellipse cx="108.6" cy="224.2" rx="2.8" ry="1.1" fill="#19d8ff" opacity="0.7"/><ellipse cx="108.6" cy="229.0" rx="4.6" ry="3.8" fill="#ff2a00" opacity="1"/><ellipse cx="108.8" cy="233.8" rx="3.4" ry="0.8" fill="#ffb0a0" opacity="0.8"/>
<rect x="134.8" y="224" width="10.2" height="11.8" rx="3.5" fill="#1440ff"/><ellipse cx="139.8" cy="229.6" rx="5.0" ry="4.6" fill="#19d8ff" opacity="0.7"/><ellipse cx="139.6" cy="229.8" rx="4.8" ry="3.8" fill="#ff2a00" opacity="1"/>
<rect x="161.6" y="224.6" width="9.8" height="14.2" rx="3.5" fill="#1440ff"/><ellipse cx="166.5" cy="231.0" rx="4.2" ry="5.6" fill="#19d8ff" opacity="1"/><ellipse cx="166.5" cy="231.0" rx="3.4" ry="3.8" fill="#2fe02a" opacity="1"/><ellipse cx="166.5" cy="230.8" rx="2.8" ry="2.6" fill="#ffe600" opacity="1"/><ellipse cx="166.5" cy="230.8" rx="2.2" ry="1.7" fill="#ff2a00" opacity="1"/>
<rect x="186.4" y="223.6" width="9.8" height="14.4" rx="3.8" fill="#1440ff"/><ellipse cx="191.2" cy="230.2" rx="4.2" ry="5.4" fill="#19d8ff" opacity="1"/><ellipse cx="191.2" cy="229.6" rx="2.6" ry="3.2" fill="#2fe02a" opacity="1"/>
<ellipse cx="140.9" cy="267.0" rx="4.4" ry="7.6" fill="#e0503c" opacity="0.28"/>
<ellipse cx="445.6" cy="268.0" rx="4.2" ry="8.4" fill="#d0503c" opacity="0.25"/>
<ellipse cx="194.4" cy="306.0" rx="3.4" ry="4.4" fill="#e0503c" opacity="0.16"/>

<ellipse cx="234.7" cy="307.0" rx="0.9" ry="0.9" fill="#ff2a00" opacity="0.9"/>
<ellipse cx="238.2" cy="309.0" rx="0.9" ry="0.9" fill="#2fe02a" opacity="0.9"/>
<ellipse cx="235.7" cy="312.0" rx="0.9" ry="0.9" fill="#ff2a00" opacity="0.9"/>
<ellipse cx="238.7" cy="314.0" rx="0.9" ry="0.9" fill="#ff2a00" opacity="0.9"/>
<ellipse cx="234.2" cy="315.5" rx="0.9" ry="0.9" fill="#2fe02a" opacity="0.9"/>
<ellipse cx="237.2" cy="305.0" rx="0.9" ry="0.9" fill="#ff2a00" opacity="0.9"/>

<ellipse cx="314.9" cy="310.0" rx="0.9" ry="0.9" fill="#19d8ff" opacity="0.9"/>
<ellipse cx="318.4" cy="312.0" rx="0.9" ry="0.9" fill="#1440ff" opacity="0.9"/>
<ellipse cx="315.9" cy="314.0" rx="0.9" ry="0.9" fill="#19d8ff" opacity="0.9"/>
<ellipse cx="318.9" cy="307.0" rx="0.9" ry="0.9" fill="#1440ff" opacity="0.9"/>
<ellipse cx="316.9" cy="316.0" rx="0.9" ry="0.9" fill="#19d8ff" opacity="0.9"/>
<ellipse cx="358.0" cy="306.5" rx="2.2" ry="5.2" fill="#1440ff" opacity="0.45"/>

<rect x="370.8" y="297.5" width="7.6" height="8" rx="3" fill="#1440ff"/><ellipse cx="374.5" cy="302.5" rx="3.6" ry="2.0" fill="#19d8ff" opacity="0.7"/><ellipse cx="374.5" cy="309.8" rx="5.0" ry="5.9" fill="#ffe600" opacity="1"/><ellipse cx="374.5" cy="310.0" rx="4.4" ry="5.2" fill="#ff2a00" opacity="1"/><ellipse cx="373.0" cy="318.0" rx="1.6" ry="1.2" fill="#1440ff" opacity="0.6"/><ellipse cx="377.0" cy="318.4" rx="1.4" ry="1.0" fill="#1440ff" opacity="0.5"/>


<rect x="384.4" y="298.6" width="7.8" height="7" rx="3" fill="#1440ff"/><ellipse cx="388.2" cy="303.0" rx="3.8" ry="2.0" fill="#19d8ff" opacity="0.7"/><ellipse cx="388.4" cy="311.0" rx="5.3" ry="6.7" fill="#ffe600" opacity="1"/><ellipse cx="388.0" cy="310.6" rx="4.4" ry="5.4" fill="#ff9a00" opacity="1"/><ellipse cx="387.4" cy="310.0" rx="3.6" ry="4.4" fill="#ff2a00" opacity="1"/><ellipse cx="388.2" cy="319.2" rx="3.6" ry="1.3" fill="#1440ff" opacity="0.8"/>
<rect x="455.6" y="299.6" width="9.6" height="19" rx="3" fill="#1440ff"/><ellipse cx="460.4" cy="302.6" rx="4.2" ry="1.3" fill="#19d8ff" opacity="1"/><rect x="455.2" y="303.6" width="10.4" height="12.2" rx="1.6" fill="#ff2a00"/><ellipse cx="460.4" cy="316.6" rx="4.0" ry="1.0" fill="#19d8ff" opacity="0.7"/>
<rect x="468.6" y="298.6" width="10.8" height="19" rx="3.6" fill="#1440ff"/><ellipse cx="473.0" cy="306.4" rx="4.4" ry="5.6" fill="#19d8ff" opacity="1"/><ellipse cx="472.8" cy="306.0" rx="3.2" ry="3.6" fill="#2fe02a" opacity="1"/><ellipse cx="474.4" cy="305.4" rx="1.8" ry="1.8" fill="#ffe600" opacity="1"/><ellipse cx="476.4" cy="312.4" rx="2.2" ry="2.8" fill="#ff2a00" opacity="1"/><ellipse cx="472.4" cy="312.4" rx="1.7" ry="1.7" fill="#ffe600" opacity="0.9"/><ellipse cx="470.4" cy="314.6" rx="1.4" ry="1.6" fill="#19d8ff" opacity="0.8"/>
<rect x="481" y="298.4" width="9.4" height="9" rx="3" fill="#1440ff"/><ellipse cx="485.6" cy="302.0" rx="3.4" ry="1.4" fill="#19d8ff" opacity="0.6"/><ellipse cx="485.6" cy="309.8" rx="5.2" ry="7.0" fill="#ffe600" opacity="1"/><ellipse cx="485.4" cy="309.6" rx="4.6" ry="6.2" fill="#ff2a00" opacity="1"/><ellipse cx="487.4" cy="306.0" rx="1.2" ry="1.4" fill="#ffe600" opacity="0.9"/><ellipse cx="485.6" cy="317.8" rx="3.4" ry="1.0" fill="#1440ff" opacity="0.7"/>
<ellipse cx="497.3" cy="307.5" rx="2.2" ry="6.0" fill="#1440ff" opacity="0.32"/><ellipse cx="501.6" cy="312.0" rx="1.5" ry="3.0" fill="#1440ff" opacity="0.22"/>
<rect x="507.8" y="302.6" width="9.2" height="15.6" rx="3.6" fill="#1440ff"/><ellipse cx="512.4" cy="310.4" rx="3.5" ry="6.0" fill="#19d8ff" opacity="1"/><ellipse cx="512.5" cy="310.8" rx="2.3" ry="3.8" fill="#2fe02a" opacity="1"/><ellipse cx="512.8" cy="312.0" rx="1.2" ry="1.6" fill="#ffe600" opacity="1"/>
</g>
<g filter="url(#br)"><rect x="230.2" y="293.3" width="13" height="2.4" fill="#fde2e2"/><rect x="231.4" y="300.5" width="10.5" height="17.0" fill="none" stroke="#a33" stroke-width="0.4"/><rect x="310.6" y="293.3" width="12.6" height="2.4" fill="#fde2e2"/><rect x="311.6" y="300.5" width="10.5" height="17.0" fill="none" stroke="#a33" stroke-width="0.4"/><rect x="368.5" y="295.8" width="12.0" height="25.0" fill="none" stroke="#7a1a1a" stroke-width="0.6"/><rect x="380.8" y="293.2" width="14.8" height="2.3" fill="#fde2e2"/><rect x="382.2" y="297.0" width="12.0" height="24.0" fill="none" stroke="#7a1a1a" stroke-width="0.6"/></g>
</g>
<g id="D">
<text x="1.6" y="352" class="b" font-size="16.5">D</text>
<path d="M30 362.5V480.2H206" stroke="#000" stroke-width="1.7" fill="none"/>
<path d="M26.5 480.2H30" stroke="#000" stroke-width="1.3"/>
<text x="25.4" y="483.3" class="b" font-size="8.6" text-anchor="end">0</text>
<path d="M26.5 460.7H30" stroke="#000" stroke-width="1.3"/>
<text x="25.4" y="463.8" class="b" font-size="8.6" text-anchor="end">10</text>
<path d="M26.5 441.2H30" stroke="#000" stroke-width="1.3"/>
<text x="25.4" y="444.3" class="b" font-size="8.6" text-anchor="end">20</text>
<path d="M26.5 421.7H30" stroke="#000" stroke-width="1.3"/>
<text x="25.4" y="424.8" class="b" font-size="8.6" text-anchor="end">30</text>
<path d="M26.5 402.2H30" stroke="#000" stroke-width="1.3"/>
<text x="25.4" y="405.3" class="b" font-size="8.6" text-anchor="end">40</text>
<path d="M26.5 382.7H30" stroke="#000" stroke-width="1.3"/>
<text x="25.4" y="385.8" class="b" font-size="8.6" text-anchor="end">50</text>
<path d="M26.5 363.2H30" stroke="#000" stroke-width="1.3"/>
<text x="25.4" y="366.3" class="b" font-size="8.6" text-anchor="end">60</text>
<text transform="translate(8.6 421.5) rotate(-90)" class="b" font-size="11" text-anchor="middle">% killing</text>
<path d="M57.0 401.3V374.8M50.5 374.8H63.5" stroke="#000" stroke-width="1.15" fill="none"/><rect x="46.0" y="401.3" width="22.0" height="78.9" fill="#ff3505" stroke="#000" stroke-width="1.6"/>
<path d="M90.0 388.0V365.8M83.5 365.8H96.5" stroke="#000" stroke-width="1.15" fill="none"/><rect x="79.0" y="388.0" width="22.0" height="92.2" fill="#0a4cff" stroke="#000" stroke-width="1.6"/>
<path d="M145.7 453.7V440.7M139.7 440.7H151.7" stroke="#000" stroke-width="1.15" fill="none"/><rect x="134.0" y="453.7" width="23.3" height="26.5" fill="#ff3505" stroke="#000" stroke-width="1.6"/>
<path d="M166 479.3H189" stroke="#222" stroke-width="1"/>
<text x="73" y="491.5" class="b" font-size="8.2" text-anchor="middle">A20</text>
<text x="161" y="491.5" class="b" font-size="8.2" text-anchor="middle">YAC-1</text>
</g>
<g id="E">
<text x="219.3" y="350.8" class="b" font-size="16.5">E</text>
<path d="M236 360V479.9H408.5" stroke="#000" stroke-width="1.7" fill="none"/>
<path d="M232.5 479.9H236" stroke="#000" stroke-width="1.3"/>
<text x="231.4" y="483.0" class="b" font-size="8.6" text-anchor="end">0</text>
<path d="M232.5 460.0H236" stroke="#000" stroke-width="1.3"/>
<text x="231.4" y="463.1" class="b" font-size="8.6" text-anchor="end">5</text>
<path d="M232.5 440.2H236" stroke="#000" stroke-width="1.3"/>
<text x="231.4" y="443.3" class="b" font-size="8.6" text-anchor="end">10</text>
<path d="M232.5 420.3H236" stroke="#000" stroke-width="1.3"/>
<text x="231.4" y="423.4" class="b" font-size="8.6" text-anchor="end">15</text>
<path d="M232.5 400.5H236" stroke="#000" stroke-width="1.3"/>
<text x="231.4" y="403.6" class="b" font-size="8.6" text-anchor="end">20</text>
<path d="M232.5 380.6H236" stroke="#000" stroke-width="1.3"/>
<text x="231.4" y="383.8" class="b" font-size="8.6" text-anchor="end">25</text>
<path d="M232.5 360.8H236" stroke="#000" stroke-width="1.3"/>
<text x="231.4" y="363.9" class="b" font-size="8.6" text-anchor="end">30</text>
<path d="M263.1 378.1V375.4M257.4 375.4H268.9" stroke="#000" stroke-width="1.15" fill="none"/><rect x="252.3" y="378.1" width="21.7" height="101.8" fill="#ff3505" stroke="#000" stroke-width="1.6"/>
<path d="M295.8 461.7V458.4M289.8 458.4H301.8" stroke="#000" stroke-width="1.15" fill="none"/><rect x="284.8" y="461.7" width="22.0" height="18.2" fill="#0a4cff" stroke="#000" stroke-width="1.6"/>
<path d="M349.9 461.7V453.5M343.6 453.5H356.1" stroke="#000" stroke-width="1.15" fill="none"/><rect x="338.8" y="461.7" width="22.2" height="18.2" fill="#ff3505" stroke="#000" stroke-width="1.6"/>
<path d="M371 479H394" stroke="#222" stroke-width="1"/>
<text x="278.7" y="490.6" class="b" font-size="8.2" text-anchor="middle">Yac-1</text>
<text x="365.4" y="490.6" class="b" font-size="8.2" text-anchor="middle">A20</text>
<rect x="328.3" y="373.6" width="18" height="6.5" fill="#ff3505" stroke="#000" stroke-width="1.3"/>
<rect x="328.3" y="388.2" width="18" height="6.8" fill="#0a4cff" stroke="#000" stroke-width="1.3"/>
<text x="348.3" y="380.1" class="b" font-size="9.3">WT</text>
<text x="348.3" y="395.9" class="b" font-size="9.3">CD18<tspan font-size="7.6" dy="-3.8">-/-</tspan></text>
</g>
</g>
</svg></body></html>
